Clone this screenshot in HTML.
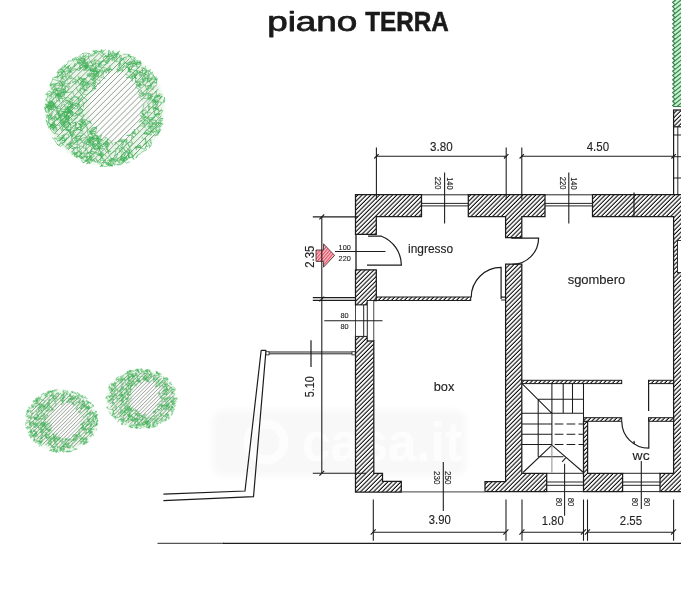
<!DOCTYPE html>
<html><head><meta charset="utf-8"><title>piano TERRA</title>
<style>
html,body{margin:0;padding:0;background:#fff;}
body{width:681px;height:600px;overflow:hidden;font-family:"Liberation Sans",sans-serif;}
svg{display:block;}
</style></head><body>
<svg width="681" height="600" viewBox="0 0 681 600" font-family="'Liberation Sans', sans-serif">
<defs>
<pattern id="h" width="3.07" height="10" patternUnits="userSpaceOnUse" patternTransform="rotate(45)"><rect width="3.07" height="10" fill="#fff"/><line x1="1" y1="0" x2="1" y2="10" stroke="#0c0c0c" stroke-width="1.1"/></pattern>
<pattern id="hr" width="2.4" height="10" patternUnits="userSpaceOnUse" patternTransform="rotate(40)"><rect width="2.4" height="10" fill="#f7c4ca"/><line x1="0.6" y1="0" x2="0.6" y2="10" stroke="#e63c54" stroke-width="1.0"/></pattern>
<pattern id="hg" width="4.2" height="7" patternUnits="userSpaceOnUse"><rect width="4.2" height="7" fill="#a9e6b2"/><path d="M0 7L4.2 2.5M0 2.5L4.2 -2M0 11.5L4.2 7" stroke="#3f9a55" stroke-width="0.9" fill="none"/><path d="M0 2.5L1.2 4.2M0 7L1.2 8.7M0 -2L1.2 -0.3" stroke="#3f9a55" stroke-width="0.8" fill="none"/></pattern>
</defs>
<rect width="681" height="600" fill="#fff"/>
<g opacity="0.999">
<filter id="bl1" x="-10%" y="-10%" width="120%" height="120%"><feGaussianBlur stdDeviation="1.5"/></filter>
<filter id="bl" x="-10%" y="-20%" width="120%" height="140%"><feGaussianBlur stdDeviation="3"/></filter>
<rect x="212" y="410" width="254" height="66" rx="12" fill="#f8f8f8" filter="url(#bl)"/>
<circle cx="266" cy="442" r="18" fill="none" stroke="#fdfdfd" stroke-width="9"/>
<text x="302" y="461" font-size="56" font-weight="bold" fill="#fdfdfd" textLength="160" lengthAdjust="spacingAndGlyphs">casa.it</text>
<g font-size="26.8" fill="#1a1a1a" stroke="#1a1a1a" stroke-width="0.75" stroke-linejoin="round">
<text x="267.2" y="30.7" textLength="90.2" lengthAdjust="spacingAndGlyphs">piano</text>
<text x="365.2" y="30.7" textLength="83.6" lengthAdjust="spacingAndGlyphs" font-weight="bold" stroke-width="0.55">TERRA</text>
</g>
<clipPath id="tc1"><ellipse cx="105" cy="108" rx="57" ry="55"/></clipPath>
<ellipse cx="105" cy="108" rx="59" ry="57" fill="#e6f7e6" filter="url(#bl1)"/>
<ellipse cx="116" cy="107" rx="27" ry="36" fill="#fbfdfb" filter="url(#bl1)"/>
<path d="M-75.0 168.0L165.0 -72.0M-72.0 171.0L168.0 -69.0M-69.1 173.9L170.9 -66.1M-66.1 176.9L173.9 -63.1M-63.1 179.9L176.9 -60.1M-60.2 182.8L179.8 -57.2M-57.2 185.8L182.8 -54.2M-54.2 188.8L185.8 -51.2M-51.2 191.8L188.8 -48.2M-48.3 194.7L191.7 -45.3M-45.3 197.7L194.7 -42.3M-42.3 200.7L197.7 -39.3M-39.4 203.6L200.6 -36.4M-36.4 206.6L203.6 -33.4M-33.4 209.6L206.6 -30.4M-30.5 212.5L209.5 -27.5M-27.5 215.5L212.5 -24.5M-24.5 218.5L215.5 -21.5M-21.6 221.4L218.4 -18.6M-18.6 224.4L221.4 -15.6M-15.6 227.4L224.4 -12.6M-12.6 230.4L227.4 -9.6M-9.7 233.3L230.3 -6.7M-6.7 236.3L233.3 -3.7M-3.7 239.3L236.3 -0.7M-0.8 242.2L239.2 2.2M2.2 245.2L242.2 5.2M5.2 248.2L245.2 8.2M8.1 251.1L248.1 11.1M11.1 254.1L251.1 14.1M14.1 257.1L254.1 17.1M17.1 260.1L257.1 20.1M20.0 263.0L260.0 23.0M23.0 266.0L263.0 26.0M26.0 269.0L266.0 29.0M28.9 271.9L268.9 31.9M31.9 274.9L271.9 34.9M34.9 277.9L274.9 37.9M37.8 280.8L277.8 40.8M40.8 283.8L280.8 43.8M43.8 286.8L283.8 46.8" stroke="#6c726c" stroke-width="0.7" fill="none" clip-path="url(#tc1)"/>
<path d="M103.5 152.6L100.1 153.2L101.1 156.9L103.8 154.7L100.1 151.7L99.1 148.8L100.4 144.9L103.0 146.8M155.6 114.9L153.5 109.9L152.9 106.0L153.4 100.8L150.2 99.7L148.1 95.5L153.1 93.9L148.6 96.5M68.3 70.5L70.7 72.8L69.9 68.3L73.2 66.9L75.3 63.1L74.0 67.0L77.7 63.6M55.8 106.4L51.2 107.0L47.6 109.5L48.3 104.9M149.1 133.8L145.7 133.3L143.4 133.5L147.7 134.7L151.9 134.2L149.7 136.0M44.5 107.2L46.1 112.2L45.7 108.7L49.0 104.5L52.6 103.1L55.9 106.5L57.3 111.6M63.9 112.7L65.1 116.4L61.8 116.7L59.5 120.0L56.5 117.1L54.3 117.6L54.6 120.4L50.3 117.9L51.7 113.3M133.3 66.0L128.8 67.3L128.2 70.4L129.0 67.7L128.3 70.3M103.0 165.8L99.9 166.7L103.1 164.4L104.0 162.3L106.6 162.6M98.7 77.0L95.0 76.9L97.7 72.2L94.7 68.9L90.9 70.1L95.3 70.9L96.7 66.8L92.6 68.9L94.6 70.9L96.9 71.6M157.2 134.3L154.5 135.8L158.5 134.8M157.1 99.6L157.8 102.0L153.2 99.7L150.0 97.7L153.2 96.3L151.0 96.3L148.3 94.0L147.8 96.7M140.0 65.8L138.4 68.3L136.1 63.9L139.2 62.5L133.8 63.0M110.1 159.4L112.1 162.9L111.8 166.1L108.7 166.0M114.8 57.5L112.4 56.7L114.8 57.3L118.0 53.7L119.5 50.8L116.6 53.6L117.0 56.1L116.5 61.2M50.7 85.5L52.8 84.0L55.8 84.9L54.1 83.4L49.9 85.9L50.6 83.2L52.6 86.3M91.3 79.4L95.5 82.6L91.6 86.3L94.2 84.6L94.1 88.4L96.3 88.9L93.3 86.8L92.3 89.0L97.0 86.2M54.6 94.5L52.9 96.7L53.6 99.5L50.5 103.3L54.4 105.8L57.9 108.0L56.3 110.5L58.6 110.0L60.5 114.4L55.9 111.9M62.3 73.2L62.4 75.5L62.5 77.9L60.2 77.2L64.0 79.1M91.0 159.8L86.0 160.8L89.9 163.6L88.4 161.2L90.0 163.3L92.1 160.9L90.9 156.1M80.2 90.1L83.5 94.2L86.6 94.8L90.6 92.0L94.8 89.3L94.7 84.8M124.1 146.2L126.1 143.9L126.9 139.5L123.5 140.7L123.4 144.4L121.3 143.8L122.7 141.5L117.9 141.9L122.9 139.7L127.3 140.2M61.8 85.0L61.5 89.9L58.7 92.0L56.4 90.1L60.3 90.3L56.0 90.3M56.6 127.1L57.1 130.3L55.1 125.4L54.3 122.1L50.8 119.2L47.7 114.7L48.7 119.9L49.0 115.6L46.4 118.4L47.2 115.6M93.3 143.8L90.2 147.0L89.8 142.9L93.0 138.8L97.0 137.8L98.3 140.5L99.2 144.5L99.3 142.2L97.4 138.0M78.0 144.9L72.7 143.4L70.3 143.0L70.2 145.6L70.0 143.1L75.3 142.3M60.4 69.0L65.2 66.5L61.6 69.8L59.1 70.9L57.9 73.3L62.4 70.4L65.5 73.2L63.3 74.6L62.4 77.5M121.3 147.7L124.2 147.1L124.1 149.9L125.8 152.2L124.0 156.6L125.8 153.4L129.0 149.5L130.7 152.5L128.4 153.7L129.7 158.7M153.0 115.1L157.6 114.1L160.2 113.6L156.1 113.6L154.7 117.2L152.2 120.3L155.9 120.3M67.9 119.8L65.5 123.7L63.2 122.6L66.2 120.8L61.0 118.9L58.0 115.5L57.7 110.9L59.3 115.9M67.3 81.2L66.0 75.9L64.9 72.4L63.5 69.9L59.1 69.1L56.9 72.8L61.4 72.1L63.8 71.6L66.8 71.3M142.6 100.3L139.7 97.2L144.1 95.4L146.8 91.5L148.5 87.6L146.7 90.1L145.3 85.2L142.7 84.5L144.6 81.2L142.3 81.7M51.1 104.6L53.3 105.7L50.8 106.6L50.1 104.0L53.7 106.4L53.2 109.5L50.2 109.0L49.0 111.1M86.6 54.2L84.0 57.0L83.7 54.3L82.3 56.8L86.7 55.8M145.6 79.3L148.3 78.0L148.0 80.5L147.5 75.4L143.8 73.5L146.3 72.4L149.8 71.1L152.3 75.2M139.7 81.6L140.0 86.1L139.4 83.0L142.1 85.2L139.6 85.3L140.5 87.5L136.3 84.5L136.8 86.8M89.0 56.1L84.9 57.6L84.3 61.8L85.6 64.4L86.0 68.1L86.0 62.7L86.3 65.8L83.0 64.8L80.1 65.7M74.9 108.7L77.2 108.6L78.7 103.8L77.2 106.9L72.6 104.4L68.5 107.4M136.6 147.5L136.5 149.9L134.7 147.3L138.6 147.7L136.0 147.3L140.4 145.3L137.8 146.5L135.2 146.5M94.7 161.3L92.9 158.3L89.3 154.4L87.4 152.0L92.3 154.0L89.5 152.2M66.9 79.3L72.0 78.3L68.2 77.1L67.3 73.3L69.4 72.1L68.9 76.3L71.3 75.9L72.4 78.2L75.1 79.2M81.2 119.2L85.3 121.8L81.9 122.5L84.3 122.3L80.7 121.5L83.1 124.1L81.8 119.1L85.6 119.7L89.7 122.3L91.7 123.5M64.9 142.5L64.7 139.4L62.8 141.2L61.7 139.0L63.8 135.7L65.2 140.8L61.7 140.5M141.2 81.1L136.0 82.9L135.0 78.0L133.8 74.2L137.8 71.2L137.1 73.9L134.4 76.7L137.1 78.6L135.0 77.6L136.8 73.6L135.5 76.5M81.1 138.8L78.8 138.5L81.2 140.8L80.5 136.0L77.2 134.4L76.5 138.0L73.4 141.5L69.7 145.0L73.3 147.0L75.5 147.8M48.0 110.7L49.0 106.3L48.9 102.9L52.9 101.4L49.9 103.5L53.8 103.0L55.1 105.4M86.4 64.8L87.8 68.1L87.5 65.7L90.8 68.1L90.5 70.6M101.3 156.8L98.1 152.9L98.9 150.1L101.0 146.8L97.2 148.5L100.3 146.3L101.3 143.5L102.5 147.2L104.9 145.4M65.4 119.9L66.8 115.5L68.9 110.4L68.8 113.3L68.7 108.5L64.9 108.2M57.4 139.8L54.2 138.1L59.6 138.3L58.1 134.3L53.4 133.0L50.0 128.7L54.9 126.7M55.7 102.6L54.5 105.6L50.4 105.4L45.2 103.8L47.5 107.4L52.1 107.3L49.0 105.9L44.7 109.0L48.1 106.3M71.5 137.1L72.4 132.9L75.2 129.1L71.5 132.2L68.8 132.5L72.1 136.9L73.4 133.8L76.8 137.2L80.2 136.1L83.1 134.9L80.4 136.4M74.8 156.7L74.0 153.0L78.5 152.2L80.7 153.6L83.6 153.0L86.6 153.5M45.7 115.3L49.3 115.4L51.6 114.7L52.3 118.2L56.5 119.5L60.6 117.4L58.5 113.0M101.6 49.2L100.9 52.9L103.9 54.8L102.4 52.0L97.2 51.7L100.9 55.1L103.6 57.2L106.0 55.6M62.1 102.6L61.1 106.3L64.3 103.8L65.3 108.4L63.4 111.7L68.8 112.0L65.9 107.6L68.9 107.0L65.4 106.0M108.5 53.2L108.1 56.2L109.9 58.6L106.4 61.0L108.3 59.6L110.3 56.3L113.2 55.2M66.2 112.7L67.0 116.0L63.7 116.6L61.5 114.9L64.8 111.8L62.5 111.3L60.4 115.3L57.4 111.4M135.6 84.0L139.4 87.4L138.5 84.6L135.2 80.9L137.8 81.8L140.9 84.5L136.5 84.4M90.8 144.1L94.0 144.5L92.1 142.9L92.8 147.2L96.1 146.9L93.0 144.6L96.3 145.1L98.2 147.4L98.7 143.0L101.1 143.6L100.7 141.1M89.7 141.1L88.1 143.0L91.1 141.5L90.3 137.1L93.0 138.9M100.0 78.5L99.7 81.0L95.6 78.8L92.1 79.4L95.0 78.1L95.6 81.2L98.4 84.3L100.9 82.5M159.8 132.6L158.9 130.5L157.3 134.6L159.2 131.9L161.3 130.2M129.5 75.0L132.2 74.6L130.9 78.9L127.5 74.8L125.3 74.3M103.9 50.5L99.3 51.7L102.5 50.2M79.4 112.6L77.8 108.0L79.9 104.4L75.2 103.5L70.7 102.0L65.8 99.7L63.5 102.7L61.8 97.7L59.9 95.9L64.8 94.4M92.6 67.6L90.1 71.2L94.9 71.1L98.3 72.4L96.0 74.6L97.5 71.2L96.2 67.2L93.8 66.9L91.4 62.3L93.4 66.1M64.7 111.1L67.6 113.9L64.8 114.3L61.2 110.4L58.8 112.1L58.9 117.6L57.4 120.2L55.4 116.0L52.4 119.2L49.6 114.7M66.2 125.1L61.4 122.8L62.9 120.5L61.1 122.3L63.5 122.7M127.3 156.2L129.4 151.4L131.6 154.6L134.0 156.5L129.3 157.6L127.9 153.0L128.5 157.4L132.5 157.2L134.0 159.6L132.7 157.5M58.1 97.4L59.9 101.1L56.3 100.8L57.8 95.8L57.1 91.3L55.5 87.2M69.3 99.9L65.4 100.8L67.7 101.5L71.8 104.3L75.6 105.4L75.9 103.1L78.3 100.2L77.8 97.5L80.6 100.5L82.8 96.3L79.2 92.2M120.7 64.1L118.5 65.9L119.9 62.8L122.3 66.1L125.0 62.2L121.6 59.0L120.3 61.3L120.2 64.6L119.5 68.3L121.0 70.4M104.4 141.2L100.7 139.2L96.3 138.0L96.5 140.6L92.1 141.7L96.6 144.4L99.2 148.0L102.6 148.6L100.3 150.0L96.7 147.4L91.7 145.9M120.7 157.2L122.2 154.7L121.4 151.5L119.0 150.9L120.3 148.3L117.2 149.1L118.8 145.2L115.2 142.1L115.2 144.5L116.7 141.6M127.8 54.5L130.6 56.8L126.6 54.4L123.1 54.3M119.0 164.0L119.3 160.6L115.1 161.1L114.6 165.4L112.2 160.7L107.1 160.7M158.6 97.4L154.2 97.5L155.6 95.1L160.2 95.6L156.7 95.8L156.1 90.9L154.6 93.5M74.1 134.4L70.9 138.3L75.6 137.8L80.4 139.8L75.6 141.1L76.8 143.5M121.4 55.4L121.0 58.8L123.3 58.2L128.1 56.6L131.3 56.9L128.0 54.6L130.4 54.6M61.8 74.6L57.0 77.4L58.1 73.5L61.2 76.1L66.3 76.6L64.5 79.5L60.5 78.2M65.3 86.0L68.7 88.0L66.1 92.5L61.1 91.1L63.9 89.3L66.4 92.6L63.4 90.7L65.8 88.0L63.7 90.6L63.5 94.0M91.7 56.7L93.0 53.9L97.0 53.2L93.2 51.3L95.6 52.5L98.5 51.3M102.2 141.7L101.8 139.4L97.0 139.0L98.1 136.4L94.2 135.3L92.5 138.0L90.2 137.7M126.8 58.6L124.4 59.9L120.2 58.3L118.9 54.3L116.1 53.8L118.6 52.1M51.7 106.0L52.5 108.2L55.7 107.5L60.2 106.4L61.2 111.6L66.6 111.9L69.6 112.5L67.5 111.8M70.6 102.1L70.8 105.9L68.4 110.7L72.1 112.5L73.7 116.4L77.7 115.3L75.1 113.1M46.0 112.5L49.5 111.5L48.6 108.3L51.8 109.9L50.4 105.2L55.1 103.8L51.4 102.2L47.6 102.2L45.9 98.5M132.8 74.3L132.2 79.2L132.1 81.5L132.3 76.7L129.1 77.6L126.2 77.4L128.9 77.2L130.4 75.4M103.3 154.0L102.5 156.2L100.3 159.7L101.5 154.7L102.1 157.1M149.3 148.2L149.9 145.1L147.1 146.8L145.4 142.5L145.6 137.8M80.3 78.9L76.9 80.8L72.0 82.0L74.5 83.3L78.4 81.7L75.2 78.8L75.4 82.3L76.1 84.9M157.8 108.5L159.1 110.8L162.7 110.6L160.1 114.7L154.8 115.0L158.1 117.8L159.7 113.8L155.2 115.9M105.7 58.9L108.9 55.5L108.9 50.0L108.6 53.4L108.9 56.0L105.0 55.6M66.0 98.8L62.9 96.2L59.9 96.8L56.5 94.9L58.6 93.1M83.8 124.7L83.1 122.5L81.9 124.8L78.3 123.3L80.6 124.8L81.1 128.0L82.0 125.8L80.2 130.0L83.5 131.4M155.4 125.2L156.5 122.5L155.9 125.5L153.2 126.9L156.2 127.5L157.3 130.7L152.4 132.1L150.1 128.5L152.4 125.9L149.7 127.3L152.2 122.8M147.1 82.4L147.6 78.8L147.1 82.0L150.3 81.4L152.1 78.3M79.0 136.7L75.6 136.5L74.6 139.5L77.4 142.4L77.0 139.7L75.3 137.5L77.9 141.7L77.8 145.0M89.9 141.6L88.6 145.0L83.7 143.4L88.0 140.9L87.1 138.7L88.6 142.3L93.2 141.9L94.4 145.0M139.6 66.5L136.5 69.6L137.9 72.8L142.9 72.1L141.8 67.4L146.4 69.3L145.0 73.1L145.2 77.8L145.5 81.0L142.9 79.8M67.6 106.6L68.0 109.8L62.9 109.4L57.9 108.2L54.4 107.2L57.2 104.3M58.9 115.1L60.5 119.6L60.0 122.6L63.0 126.3L66.8 126.8L68.7 131.1L71.3 132.6M93.4 76.0L91.6 73.8L89.4 77.2L91.7 73.5L93.9 73.3L92.4 76.7L94.7 77.3L92.0 80.3M82.4 155.3L80.9 152.5L78.9 156.9L81.7 158.6L83.5 156.2L87.8 155.9L85.4 160.8L87.9 159.2L87.5 164.1M145.7 65.7L144.5 69.8L148.0 70.9L150.6 69.6L147.9 73.1M60.3 89.1L60.2 91.9L61.8 93.8L58.9 97.5L57.9 94.8L60.6 94.5L56.1 95.0L60.3 96.1L62.5 97.2M60.1 102.7L58.4 97.7L59.6 93.8L57.3 93.9L53.5 92.5L53.3 89.8L51.3 88.6L50.6 83.7M56.7 127.3L51.9 125.8L52.8 128.3L54.9 127.3L52.7 129.8L54.2 126.0L50.1 126.6L53.3 123.8L50.7 124.7M116.0 147.9L115.6 153.4L114.3 155.8L117.9 153.6L116.4 157.3L113.1 159.0L110.5 158.1M60.3 69.6L61.9 67.2L64.7 64.8L65.3 67.2M142.1 136.7L143.7 140.1L145.1 138.2L146.9 143.3L143.6 144.4L147.7 141.9L149.6 145.6M52.9 89.4L56.9 88.7L53.8 89.8L51.4 93.8L47.9 96.8M97.4 149.0L94.7 148.9L91.2 147.9L94.7 144.9L92.1 145.3L95.3 149.6L93.1 147.7M49.7 123.9L48.5 120.5M96.9 71.2L95.6 75.1L93.8 79.4L95.5 82.8L92.0 84.0L88.2 83.1L86.2 87.6L90.0 86.4L87.0 82.9L85.2 86.7M60.5 118.3L62.9 113.7L64.9 117.1L68.2 113.0L71.3 114.0L69.5 112.4L67.5 113.5L64.9 116.7M147.2 70.1L145.1 75.1L141.5 78.3L145.9 78.5L149.2 77.9L150.0 73.7L152.4 71.9L153.8 76.8L155.7 78.0M71.9 151.5L75.6 154.6L76.7 152.0L74.9 154.9L78.6 153.6M94.9 164.6M93.3 71.5L98.1 72.1L98.7 76.5L96.8 75.3L95.3 73.1L89.9 74.2M118.5 157.5L117.1 159.5L113.2 160.1L116.6 157.1L118.1 162.1L122.6 162.2L124.4 157.9L127.1 160.1M54.3 101.0L53.6 104.5L50.5 100.3L47.8 102.7L52.9 101.6L53.8 104.1L54.0 107.1L50.2 110.1L47.9 111.0L50.2 115.3M79.0 103.6L79.8 100.2L82.6 96.7L79.9 92.3L80.6 88.2L84.1 89.3L82.7 85.7L79.8 84.0L81.4 81.5L79.1 78.7L80.4 80.5M131.3 135.0L126.6 135.5L130.7 135.0L134.1 137.2L131.4 137.1M135.5 66.3L132.1 65.3L135.5 63.2L130.9 63.9L128.7 64.8L124.4 62.0L122.7 63.9L126.8 67.1L130.1 69.9M108.8 145.7L105.9 147.0L102.9 143.9L108.0 144.8L105.1 145.2L109.4 142.5L107.1 143.3L102.5 142.9M69.3 122.2L70.8 125.7L68.3 121.8L66.5 118.7L64.9 114.9L60.6 115.5L59.8 117.7L63.0 122.1L66.9 119.0M101.7 162.7L106.8 162.2L109.3 165.2L112.9 166.0L110.0 164.7L112.8 164.9L113.5 161.9L110.7 158.2M80.0 107.7L83.4 110.6L80.0 108.0L78.0 103.1L74.0 104.4L69.9 103.7L68.7 101.1L71.1 102.0M151.4 120.3L152.6 124.1L153.0 127.0L147.8 126.9L149.8 123.8L147.4 121.7L148.4 119.5L146.4 118.1L150.0 117.9L154.9 116.9L150.5 119.2M79.5 56.4L74.9 59.1L72.2 58.9L73.5 61.5L74.4 59.3L77.7 60.8L78.9 58.1L81.8 62.4L80.8 59.1L76.2 59.7M150.1 87.4L150.9 82.9L156.1 82.8L157.4 78.5L155.7 80.1L156.1 76.4M91.7 67.4L90.2 70.0L87.6 70.1L83.1 70.3L87.1 68.7L84.6 66.2L89.5 65.4L93.0 65.9L95.4 63.2M144.2 123.2L145.2 126.2L142.6 124.4L143.9 122.2L144.4 119.5M92.7 56.1L94.6 54.8L95.1 51.1L97.3 50.7L92.3 50.9M119.1 68.6L122.7 69.5L122.1 71.8L122.4 69.4L124.3 65.7L122.8 67.7L119.5 68.3L117.3 72.5L119.9 70.4L116.6 69.8M117.1 164.7L120.9 164.8L124.2 161.4L119.3 159.7L121.9 156.3M81.3 159.8L83.3 162.9L87.1 160.0L86.5 156.9L90.9 156.5M90.6 131.0L91.1 134.9L90.2 131.0L95.5 131.3L91.7 132.4L92.7 135.2L93.7 139.3L96.3 137.6L94.4 140.2L96.6 140.6L97.7 135.2M67.8 119.2L66.6 116.9L70.8 117.7L73.5 120.8L77.6 117.2L73.3 118.9M52.5 88.1L55.2 83.5L57.9 83.7L60.5 83.9L62.7 82.7L59.9 82.0M142.9 109.8L140.3 112.2L144.3 114.6L141.8 113.6L143.8 116.2L147.3 117.1M128.0 70.2L132.1 72.0L134.6 74.6L132.2 76.5L134.9 77.3L133.5 72.2L135.4 70.9L132.8 69.7L128.9 69.2L130.2 71.3L127.8 71.6M136.4 60.8L140.8 63.9L139.8 60.4L140.6 64.1L139.2 61.9L139.6 64.5L135.8 64.4L133.9 61.3L135.8 58.9M70.2 131.1L67.1 129.7L65.2 128.0L63.6 124.1L64.5 121.8L60.8 123.8L65.2 125.6L68.7 123.1L69.1 117.8L65.4 118.9L68.8 116.0M96.8 154.9L94.3 152.7L91.0 151.2L89.7 154.6L89.9 159.2L93.7 159.9L95.9 162.0L92.9 160.7L90.1 160.4L89.4 162.8L86.1 163.8M82.5 63.1L84.5 59.6L79.6 57.6L81.9 58.1L85.0 58.8L80.9 57.8L79.9 55.8L82.0 53.6L85.3 53.0L89.1 53.5M57.2 144.4L59.3 145.6L60.9 142.0L64.4 142.8L65.6 140.0M45.5 101.1L47.7 97.5L47.0 94.0L51.3 96.4M53.7 131.1L54.5 126.6L52.3 124.4L49.1 126.4L54.2 125.0L50.8 126.0L48.7 128.1L47.8 124.2M99.7 162.9L100.7 160.1L105.6 160.5M80.2 129.3L75.6 130.3L73.4 130.7L72.9 134.6L76.2 131.9M77.8 141.6L81.9 138.5L85.1 137.2L89.4 139.6L86.2 140.8L82.2 142.8L81.7 139.2M101.7 139.0L100.0 141.9L97.0 144.9L97.9 141.8L100.1 140.2M110.2 51.4L111.7 56.5L112.2 60.7L116.0 58.3L116.5 55.2L118.0 53.0L115.0 55.3L114.3 53.1L117.3 54.6M137.7 155.0L135.8 158.2L138.4 154.4L140.8 153.6M94.4 64.1L99.6 63.2L99.3 66.6L102.1 68.8L102.3 73.4L100.6 77.5L105.1 78.3L103.0 75.9L103.7 70.9L107.4 68.4M59.5 125.7L54.4 124.7L53.9 121.2L58.2 119.6L54.4 117.4L57.1 113.8L60.0 115.9L62.9 118.7L64.6 117.2L68.3 115.6L63.7 118.5M129.2 154.3L128.2 158.7L124.5 161.0L125.4 157.4L124.1 162.1L120.3 159.5L125.3 160.6L121.2 159.6L124.0 157.9L120.1 159.1L123.7 157.3M62.4 82.5L58.9 85.4L60.4 81.0L62.7 84.6L62.3 87.7L62.3 89.9L65.5 92.9M154.9 119.6L157.0 122.2L161.6 123.7L157.9 126.8L155.8 124.8L152.1 123.9L157.3 123.4L154.8 126.7M130.7 60.6L128.3 65.0L132.8 63.0L134.9 63.7L132.7 62.5L137.0 65.2M141.4 118.8L145.9 117.3L143.4 117.9L146.2 117.3L143.2 113.6L146.4 112.3L145.8 109.9L141.7 111.7M98.5 147.8L100.0 144.9L97.0 142.1L99.1 141.3L98.1 137.6L95.9 134.9L93.0 139.2L90.2 140.3L85.7 139.5L83.4 144.5L84.0 149.0M78.6 133.1L83.4 133.1L86.4 136.7L90.5 139.3L90.0 142.2M76.6 121.7L73.0 123.2L75.8 122.3L76.5 125.6L75.5 122.4L75.5 127.1L78.5 127.7L73.7 128.3L70.5 127.5L74.7 124.8M82.6 80.9L80.9 76.8L77.6 80.3L79.6 85.3L82.6 83.9L80.3 88.2L78.0 91.6L76.1 86.7M105.9 71.4L110.7 69.2L106.8 70.8L110.3 67.6L109.7 65.1M78.5 102.9L78.7 98.2L73.8 97.1L70.0 99.0L72.5 100.2L68.2 97.6L63.0 98.4L59.5 98.6L60.6 93.4M146.8 79.0L151.5 78.1L153.5 75.6L156.7 79.4L152.9 79.1L149.3 80.6L149.9 82.9M47.7 107.2L44.6 107.2L49.3 105.4L46.5 105.5M52.7 79.0L57.1 80.5L61.8 81.7L65.9 80.5L63.6 85.2L61.2 88.7L55.9 88.1M79.0 150.6L81.3 154.9L81.2 150.0L79.1 148.1L79.9 145.1M58.8 144.8L61.0 143.4L63.8 144.3L60.2 146.3L56.9 143.9L55.3 140.9L52.0 137.1M67.9 128.0L68.4 124.9L68.3 127.4L64.8 124.2L63.7 121.2L63.0 123.5L64.4 126.2M85.4 121.9L84.1 126.3L82.5 128.9L80.1 127.2L82.2 131.2L79.1 129.6L77.0 128.7L81.0 126.6L79.1 123.1M85.5 81.0L88.6 83.0L83.8 81.6L82.3 79.1L78.3 76.4L78.3 79.5M102.1 166.2L101.3 163.2L98.6 161.8L95.6 158.1L97.2 162.2L99.7 164.1M102.4 73.9L99.8 70.5L97.5 72.5L95.2 69.9L95.8 64.9L94.8 59.7L93.2 64.5L89.0 67.3L86.7 65.1L85.7 70.1M72.9 111.3L70.7 114.0L72.9 115.1L69.3 115.2L68.2 118.1L70.9 114.0L69.2 110.5L64.6 112.7L60.4 114.6M102.1 52.6L104.0 51.1L105.6 49.4M111.8 158.1L114.7 161.3L113.5 158.2L109.1 160.0L111.2 163.7L105.9 164.2L108.7 164.9L112.1 165.2M151.8 87.7L151.0 83.6L150.5 88.5L153.0 89.7L153.4 85.6M70.3 108.3L73.3 112.5L69.8 109.6L71.7 112.1L76.0 114.0L79.2 109.8L82.6 109.6L81.8 113.9L77.1 114.8L81.0 112.6M58.0 79.5L57.8 76.1L54.0 77.5L56.4 77.5L61.2 74.8L63.6 72.0L61.6 68.8M82.3 130.4L78.5 129.3L76.4 127.8L76.9 130.3L74.6 126.5L76.8 123.3M86.5 75.0L89.1 76.1L88.1 73.0L87.2 75.8L91.9 76.1L90.6 78.8L93.6 81.2L93.2 75.9L95.3 74.9L91.5 75.0M63.4 95.1L60.4 93.1L64.2 92.2L68.4 92.4L72.7 91.5L74.2 96.2L79.1 97.3L82.4 101.0L83.6 103.5L83.5 107.3M88.4 65.8L87.3 62.5L84.4 62.8L81.5 62.3L78.7 62.6M108.9 153.6L107.2 148.6L109.4 144.3L105.7 141.1L106.2 146.3L106.8 148.8L107.5 143.4L107.7 139.1L111.1 141.2L112.8 144.8M78.3 124.4L83.4 125.9L86.1 124.1L83.8 120.1L79.4 121.5L82.3 119.1L84.0 114.4L81.9 116.7L78.9 115.0M51.6 126.5L50.6 129.1L50.1 123.8L50.7 127.0L52.9 127.8L54.4 131.1L56.7 130.7M156.8 96.4L162.3 96.8L159.6 98.4L162.5 95.9L160.1 98.0L157.4 99.4L153.8 99.0L153.6 101.2L156.4 105.1L155.0 100.1L158.1 104.3M161.6 102.4L156.4 100.7L152.9 103.2L152.6 99.9L155.4 103.0L154.5 100.6L155.1 96.5L158.5 96.4L162.1 93.8M63.2 138.3L60.2 139.8L57.2 140.8L60.2 141.0L62.4 137.8L62.9 135.4L65.1 135.3M91.7 55.7L89.1 53.3L88.4 57.9L91.1 62.2L95.8 59.5L100.4 62.2L102.7 60.4L100.8 64.0L96.3 65.5M130.5 149.7L128.5 144.9L124.3 141.4L122.1 142.4L120.6 139.8L117.9 141.9M83.4 148.2L81.7 145.9L78.4 147.9L73.9 148.0L71.8 148.7L75.2 147.7L77.7 146.9L77.1 150.7L81.8 152.2M82.6 162.7L86.8 161.0L82.9 159.6M51.0 107.0L48.6 105.9L52.5 105.7L50.4 106.8L49.5 101.8M71.9 101.5L72.5 103.6L72.9 108.1L69.4 107.6L65.2 110.0L70.5 110.0L68.2 109.5L70.5 112.9L71.3 110.3L70.9 113.7M102.8 166.3L100.8 165.0L104.9 166.6L109.8 165.3M96.5 136.5L93.9 132.8L91.3 134.1L89.2 131.9L93.8 129.1L96.7 128.5L95.2 133.4L91.3 134.3L90.6 131.4L88.2 132.0M80.0 84.7L81.4 81.4L83.0 85.3L81.3 82.3L83.5 79.3L83.6 83.2L82.6 86.8M61.3 80.0L64.6 83.0L61.8 85.3L66.4 83.5L70.9 82.9L68.3 85.1L69.8 87.0L67.1 86.8L64.6 85.4L59.4 85.3L54.3 86.4M95.1 136.8L89.9 138.5L88.4 135.5L87.2 130.6L87.5 127.5L85.5 124.0L82.5 124.5L81.1 121.2L80.5 124.8L83.0 126.9M149.0 81.2L151.2 79.3L153.9 77.5L155.6 80.0L153.5 81.6L156.7 83.5L156.0 78.7L154.3 80.1M56.2 129.9L54.7 126.1L52.3 122.3L56.2 125.1L51.4 124.5L53.2 126.0L51.2 123.5M143.9 104.4L143.0 108.6L142.6 113.3L144.1 116.0L140.1 115.7L143.9 118.1L145.7 120.0M80.0 157.0L81.1 159.0L83.3 158.5L80.7 155.4L76.3 157.8L77.3 155.7L73.6 152.3L71.6 154.0M82.9 97.3L87.2 100.0L85.8 101.8L81.5 104.5L79.3 109.4L81.9 112.1L78.3 113.7L74.8 115.8M96.8 135.1L99.8 139.4L101.7 134.7L99.1 137.8L96.9 141.7L98.9 139.6L96.8 144.2M91.2 132.2L92.2 128.3L95.9 127.2L92.2 128.1L89.2 130.7L85.6 126.5L87.4 121.9L89.9 120.8L91.1 123.3L89.3 121.1M57.4 112.5L53.8 109.5L49.6 108.4L48.1 105.0L47.6 107.6L45.8 104.7L48.8 103.8L49.5 100.2M128.8 141.9L133.0 143.6L131.4 140.9L132.0 136.9L132.9 131.6L135.3 135.1L139.3 131.9L137.0 128.3L141.1 125.4L145.6 127.7M76.8 61.1L78.9 63.3L80.2 68.2L78.5 70.9L80.9 69.2L79.8 66.7L82.1 68.0L78.9 69.0L83.8 66.4L85.8 65.1L81.4 67.9M97.0 75.4L95.7 73.1L99.6 72.6L97.3 76.9L94.1 73.9L95.0 70.4L97.6 71.1L101.9 70.9L104.5 71.3L106.9 73.2L103.9 68.8M63.4 88.5L66.9 92.3L65.1 90.0L65.4 87.2L62.2 85.2M151.3 143.9L149.7 141.6L150.7 139.4L151.3 144.3L150.5 146.8M159.9 118.3L163.1 118.4L159.7 119.1L161.1 124.3L156.0 122.7L151.3 122.2L149.6 120.1L148.1 115.7L147.3 111.9L152.0 113.4M51.7 125.0L48.2 122.6L46.1 119.9L47.6 124.9L48.8 119.9L50.5 117.1L53.1 112.7L51.3 110.5M160.3 103.0L163.5 102.6L164.5 97.3L164.7 99.6L164.3 102.3L163.0 100.1M158.3 112.8L158.3 107.8L153.5 109.2L157.7 105.8L155.8 104.4L155.9 107.2L158.1 109.9L153.4 107.0L158.1 109.7M51.8 92.4L49.0 90.9L45.7 94.4L49.0 93.8L53.9 91.7L56.3 93.8L55.6 98.1L55.9 94.4L59.0 95.4L57.7 91.0L54.2 89.0M72.0 105.5L69.7 107.1L70.4 109.6L72.2 112.7L72.1 117.3M152.2 96.8L149.8 98.0L147.2 97.8L150.9 98.7L150.9 93.7L146.4 93.2L143.0 96.1L142.6 92.6L145.7 95.0L147.0 91.7L149.7 88.5M94.8 145.2L98.7 146.0L99.6 150.5L102.0 154.5L96.7 153.8L100.1 155.7L103.4 153.6L98.7 156.0L101.0 151.8M71.8 129.5L67.8 129.5L65.5 129.1L70.1 131.9L71.3 135.9L70.1 132.3L73.1 136.4M71.1 69.2L69.3 65.0L67.1 67.3L64.2 69.5L61.8 74.0L61.0 71.5L63.5 74.3M70.8 69.5L74.4 68.6L78.2 69.8L74.4 69.9L69.5 71.6L67.7 66.6L70.9 71.0L69.7 73.1M58.6 92.4L60.3 95.5L57.7 97.2L54.0 93.8L51.5 94.1L51.2 98.7L48.9 99.3M104.1 153.7L106.8 157.4L110.3 160.7L112.4 159.1L109.0 155.6L111.7 152.7L116.3 150.8M64.1 137.3L61.7 137.5L63.7 138.6L60.6 137.0L59.8 140.1L63.6 137.0M66.1 147.2L70.2 147.0L66.5 144.2L71.9 144.8L70.1 147.8L66.2 148.8M72.9 139.9L70.3 142.4L69.4 144.5L73.3 141.3L71.5 139.4M131.9 143.8L129.5 147.4L127.9 142.5L126.1 140.9L123.1 141.8L121.4 138.5L119.0 141.2M142.1 94.0L141.3 90.2L138.7 94.8L141.5 96.1L144.3 93.6L141.9 94.1L138.1 91.5L139.5 89.3L135.1 87.1M141.0 152.6L144.5 150.7L146.6 149.9L145.5 147.6L146.7 145.4L144.5 149.3L141.3 148.1L140.3 145.8M141.0 65.4L140.9 61.8L137.0 63.3L134.1 61.0L129.1 61.7L127.0 65.4L130.4 69.6M158.0 122.4L162.9 123.5L161.5 125.8L156.4 127.9L152.7 129.6L155.9 132.7L158.4 133.6L155.3 129.3L158.2 132.3M53.1 84.9L54.8 87.0L55.2 92.2L55.9 94.3L59.6 93.2L64.3 92.3L60.7 92.9L64.3 93.0L64.6 96.4M111.7 53.2L113.2 50.6L113.0 55.7L108.0 56.7L105.1 55.8L108.5 59.0L113.7 58.1L117.8 56.1M70.8 130.5L66.9 130.3L62.1 129.2L64.4 124.8L64.7 122.3L62.0 125.9L61.1 123.5L64.2 127.6L67.0 127.4L66.3 131.1M90.7 70.5L94.8 71.6L89.8 70.2L85.8 67.4L89.5 67.7L90.4 70.4M158.6 133.2L160.5 129.0L158.5 130.5L160.4 126.0L158.0 124.3L159.0 120.4L162.7 120.0L160.6 121.8M73.8 153.6L74.9 156.3L77.3 156.2L79.6 155.9L76.8 156.6L76.9 152.3M104.7 60.0L105.5 62.6L108.1 63.2L105.1 64.4L101.5 65.6L100.4 61.7L105.6 60.7L108.8 58.4L108.9 62.1L105.0 62.3L109.1 60.6M81.2 80.2L86.2 78.7L83.8 78.7L85.0 80.6L84.9 82.9M91.3 157.8L94.7 155.8L92.2 154.4L89.5 158.1L90.1 155.5L91.3 159.0L87.3 160.4L89.3 158.1L91.4 159.5M89.2 145.2L85.6 143.0L89.2 141.1L90.0 136.0L88.1 140.8M148.2 78.2L149.0 73.3L145.9 74.7L141.1 72.4L141.0 76.3L140.2 71.2M136.7 82.6L139.9 79.9L144.1 79.3L142.1 83.2L143.9 81.6L142.3 79.0L143.8 75.0L144.8 78.3M72.2 73.6L71.5 71.0L66.8 71.1L68.5 66.3L68.3 69.0M134.0 134.0L134.3 129.0L135.5 133.6L131.5 133.3L133.2 131.8L135.4 134.3M107.9 66.9L112.4 69.9L107.8 69.2L108.9 72.8L109.4 69.6L104.6 67.8L100.8 67.1L99.1 62.1L98.8 67.5L98.6 64.0M61.0 136.3L64.2 134.3L68.3 134.1L68.9 137.4L65.5 140.3L67.1 137.4L64.4 140.8L67.1 139.5M115.5 164.0L118.2 164.8L123.3 162.8L123.8 159.2L126.8 157.8L122.3 156.8L119.7 160.4L122.6 158.7L122.9 156.3M142.7 84.0L146.0 86.2L149.3 85.2L149.0 88.9L147.4 86.3L152.3 84.5L153.2 80.6M72.9 124.1L71.5 119.5L67.2 121.2L70.0 124.8L70.3 129.3L70.8 132.6L72.4 130.3M66.0 121.6L70.3 122.7L67.7 124.9L65.1 120.6L68.3 119.2L64.6 119.0L68.4 120.3L68.2 115.1L69.1 119.0L69.9 116.3M97.2 149.2L94.0 149.1L97.8 148.6L102.6 148.1L105.1 149.7L105.9 152.2L110.8 151.3L106.2 149.2L108.4 150.4L108.5 154.1M140.1 145.4L141.7 147.5L137.9 147.6L140.9 147.8L138.1 144.7M147.3 134.4L145.6 132.9L149.7 131.3L151.0 133.2L151.1 129.7L154.0 133.0L149.4 131.3L146.5 129.1L143.9 133.9L146.2 133.2L150.9 133.0M104.2 161.3L101.5 156.8L105.2 159.7L105.9 163.7L109.4 164.0L108.0 161.9L108.2 165.5L110.3 162.5L112.6 159.4L116.4 160.2M82.0 86.3L83.0 90.2L87.3 90.6L85.0 89.1L83.5 92.5M135.9 57.4L132.1 60.2L130.2 56.6L134.2 57.1L134.3 61.5L138.3 60.7L136.0 64.8L136.8 67.4M93.6 141.8L91.5 137.2L89.5 140.0L90.7 144.0L88.0 144.0L86.0 145.9L85.5 151.1L86.0 147.6L88.1 152.7L84.2 154.8M119.2 153.0L121.6 148.7L122.3 151.0L124.4 153.8L121.0 157.9L121.2 155.2L125.4 151.8L129.2 150.8L126.0 146.7M130.0 161.8L126.2 163.2L123.2 159.1L126.4 155.5L126.7 160.2L128.9 155.7M145.5 70.9L142.3 70.3L142.7 74.3L139.2 76.1L139.6 70.9L135.4 70.5L137.8 72.1L134.7 74.7L135.6 78.5L135.5 73.9M86.0 85.7L90.4 84.0L85.0 83.7L83.9 86.3L86.5 82.7L81.3 81.3L84.0 82.6L83.9 86.2L84.6 90.4L88.0 86.4M72.0 155.2L74.7 152.4L72.9 148.6L69.7 146.8L68.1 143.7M91.2 139.9L94.4 139.1L91.8 137.7L92.2 135.2L90.1 133.1L93.5 130.0L96.6 126.5L96.6 128.8M92.2 136.2L93.2 139.5L90.0 141.8L93.7 144.1L96.2 143.6M121.0 70.5L116.9 70.0L119.4 65.6L119.5 62.6L120.1 58.7L121.3 60.6L119.8 62.5L117.4 61.4L114.5 61.4L113.9 57.3L111.9 60.5M103.7 61.7L103.5 57.8L105.9 56.4L109.1 56.6L108.1 54.0L111.2 54.4L113.8 52.5L115.3 55.3L110.5 55.1M76.5 59.8L75.6 57.1L71.8 60.8L68.4 61.0L67.6 63.2M64.2 112.5L68.0 111.8L70.6 110.4L67.7 109.6L68.5 107.3L68.8 112.6L65.2 111.8M74.4 158.4M78.9 60.4L83.2 61.1L85.7 58.8L83.7 63.8L87.4 65.2L86.3 67.6L84.4 69.9L88.3 66.5L87.1 61.7L92.5 62.2M106.5 140.3L106.8 142.8L102.8 144.7L106.7 142.1L107.7 139.0L105.9 137.0L104.6 140.0M53.2 77.5L52.3 80.4L50.9 83.8M142.6 123.6L141.4 119.9L139.1 122.3L143.3 119.5L148.0 121.1L149.5 123.6L145.3 124.2L142.8 123.4L147.5 122.8L143.4 119.3M154.2 107.3L155.7 109.2L152.0 107.8L148.5 106.0L148.8 111.2L149.8 107.8L147.6 102.8L150.3 100.2L146.6 98.5L142.6 98.1M125.5 63.3L130.0 62.2L132.8 63.4L131.6 68.0L130.2 73.1L128.8 68.2L131.3 64.6L126.2 63.6L127.5 67.5L124.4 67.0M71.5 96.3L73.6 100.1L69.8 101.9L67.7 106.7L69.3 111.8L64.2 112.9L65.1 114.9L65.8 117.1L63.2 119.3L58.4 121.3M134.7 154.0L136.8 152.6L133.3 156.1L129.2 153.1L126.8 152.8M83.9 152.5L84.3 156.0L88.7 158.4L86.7 157.2L83.8 156.9L80.3 157.0L82.5 157.7L79.3 155.2M121.8 149.4L122.5 144.3L120.1 146.8L124.2 149.0L127.1 152.2L129.7 152.8L129.4 149.8L131.9 150.4L132.3 155.9L132.9 158.5M86.5 152.3L89.3 152.7L91.7 151.8L91.6 148.3L90.4 152.8L92.7 153.6L97.3 152.6L92.2 151.2M71.7 124.6L68.2 123.3L63.6 120.8L61.3 119.8L59.8 124.3L60.0 127.2L62.1 131.4L62.2 126.3M67.2 67.6L64.6 66.5L67.5 63.6L65.0 65.8M154.2 114.3L154.6 111.3L156.8 109.7L154.9 108.1L156.5 106.2L158.7 102.3L155.5 101.9L153.7 98.3M79.5 78.9L84.7 78.4L87.8 81.6L91.7 82.2L96.0 84.0L93.6 86.9M86.6 66.1L83.0 65.3L78.0 63.1L81.4 63.4L83.5 64.6L85.3 68.3L82.8 67.0L80.2 62.3L76.9 62.6L80.1 58.5M75.3 109.7L72.1 106.6L68.9 106.6L71.4 106.1L73.7 105.1L72.1 108.4L71.9 105.2L71.0 109.0L72.2 103.9L69.6 104.6L65.0 102.0M150.7 131.4L153.8 128.0L148.5 128.4L150.4 124.2L149.5 119.9L153.5 118.8L150.7 120.0L148.3 119.3L147.0 116.6M82.3 59.9L85.0 61.4L87.4 63.2L83.7 63.5L84.3 59.7L82.0 60.2L83.3 64.0M89.3 75.4L89.4 72.8L92.5 68.3L96.8 68.8L100.3 70.0L97.5 74.0L95.2 78.3L93.5 73.2L92.9 69.0" stroke="#3cb054" stroke-width="0.55" fill="none" stroke-linejoin="round"/>
<clipPath id="tc2"><ellipse cx="61.5" cy="421" rx="33" ry="28"/></clipPath>
<ellipse cx="61.5" cy="421" rx="35" ry="30" fill="#e6f7e6" filter="url(#bl1)"/>
<ellipse cx="66" cy="421" rx="15" ry="19" fill="#fbfdfb" filter="url(#bl1)"/>
<path d="M-42.0 455.5L96.0 317.5M-40.2 457.3L97.8 319.3M-38.3 459.2L99.7 321.2M-36.5 461.0L101.5 323.0M-34.6 462.9L103.4 324.9M-32.8 464.7L105.2 326.7M-31.0 466.5L107.0 328.5M-29.1 468.4L108.9 330.4M-27.3 470.2L110.7 332.2M-25.5 472.0L112.5 334.0M-23.6 473.9L114.4 335.9M-21.8 475.7L116.2 337.7M-19.9 477.6L118.1 339.6M-18.1 479.4L119.9 341.4M-16.3 481.2L121.7 343.2M-14.4 483.1L123.6 345.1M-12.6 484.9L125.4 346.9M-10.8 486.7L127.2 348.7M-8.9 488.6L129.1 350.6M-7.1 490.4L130.9 352.4M-5.2 492.3L132.8 354.3M-3.4 494.1L134.6 356.1M-1.6 495.9L136.4 357.9M0.3 497.8L138.3 359.8M2.1 499.6L140.1 361.6M4.0 501.5L142.0 363.5M5.8 503.3L143.8 365.3M7.6 505.1L145.6 367.1M9.5 507.0L147.5 369.0M11.3 508.8L149.3 370.8M13.1 510.6L151.1 372.6M15.0 512.5L153.0 374.5M16.8 514.3L154.8 376.3M18.7 516.2L156.7 378.2M20.5 518.0L158.5 380.0M22.3 519.8L160.3 381.8M24.2 521.7L162.2 383.7M26.0 523.5L164.0 385.5" stroke="#5e635e" stroke-width="0.6" fill="none" clip-path="url(#tc2)"/>
<path d="M96.3 412.5L95.7 413.2L96.3 411.5L96.3 412.6M92.3 421.0L94.2 420.9L93.0 420.5L92.9 421.4L94.2 421.6L93.7 422.7L94.8 421.8L93.8 421.4L95.0 421.6L95.9 422.7L97.5 422.7M76.2 448.8L74.3 448.5L73.3 449.6L72.1 451.0L70.3 451.6L69.7 450.7L69.4 452.1L67.7 451.9L66.9 450.8M81.8 408.8L81.6 407.4L81.8 408.6L81.5 407.6L82.4 407.0L83.4 406.4L85.0 405.9L83.6 405.9L82.7 404.7M53.5 437.9L52.4 439.1L53.7 438.0L53.2 438.6L54.0 436.8L55.2 437.7L56.7 438.2L55.9 436.5L55.9 435.5M58.1 450.4L56.6 451.1L57.8 451.4L58.6 452.8M93.6 425.5L94.9 426.8L94.8 425.4L96.3 425.4L96.6 424.4L97.4 424.2M61.2 400.9L62.5 401.2L62.6 399.5L64.0 398.5L65.1 397.3L64.1 397.5L63.4 396.5L64.5 397.3M39.3 409.7L38.5 411.3L37.9 412.2L39.4 412.0L38.8 410.1L38.3 409.1L39.0 409.9L37.9 410.2L39.4 409.4M83.3 424.8L83.3 426.3L82.0 425.0L81.7 424.0L80.5 424.6M46.1 429.6L46.9 430.1L48.6 430.3L49.3 430.8L48.6 429.6L47.4 429.3L46.7 427.8L47.1 429.5L46.4 429.8L44.8 428.8M88.3 409.9L88.7 408.7L86.8 408.5L85.9 407.8L87.1 407.6L88.8 407.8L89.7 408.5L90.6 407.2L91.9 407.3L90.7 408.0M69.2 445.9L70.4 446.1L70.2 445.1L69.3 445.1L68.1 446.3L68.9 447.2L69.7 446.5M83.3 439.3L84.8 438.9L86.4 439.2L86.7 437.5L85.5 437.5L83.8 438.0L83.6 439.4L81.7 439.7M73.5 391.7L72.7 392.3L71.6 391.5L73.0 392.4L72.2 391.9L72.9 393.2M73.8 392.3L75.3 392.2L76.1 393.0L76.3 394.6L75.8 393.4L74.8 393.3L73.0 392.8L73.0 391.9L71.3 391.7L71.2 393.6M30.5 427.7L31.3 426.9L31.5 425.2L29.9 425.5L30.3 424.4L30.2 423.1L31.3 423.5L31.2 425.1M35.1 435.0L36.3 434.8L36.2 433.2L36.4 431.4L36.6 432.9L35.3 433.8L36.9 433.6M88.7 422.7L87.7 421.3L89.6 421.5L89.4 420.0L91.0 418.9L92.4 420.0L92.5 418.9L92.5 417.4M73.6 448.3L73.0 447.0L72.0 446.9L71.6 445.0L71.7 443.8L72.9 443.0L72.4 442.2L70.8 441.2L72.0 440.6M42.8 407.0L42.8 405.3L41.5 406.2L41.9 404.4L42.6 405.2L41.6 406.1L41.4 406.9L39.5 406.2L38.6 407.2L37.6 408.1L38.4 407.3M45.1 401.7L44.8 400.6L44.7 401.7L43.8 403.4L43.2 404.9L41.3 404.6L40.2 404.6L38.7 403.6L39.6 404.7M89.3 413.1L90.2 412.9L90.8 411.7L90.0 412.6L91.2 413.2M74.9 441.1L76.1 440.5L74.9 439.0L74.5 439.8L74.5 440.8L74.0 439.7M40.7 443.9L40.5 445.3L39.3 446.5L39.3 445.4L39.0 443.9L37.5 443.1M50.4 441.2L51.7 439.8L51.8 437.8L51.4 439.3L50.8 438.3L50.0 438.9L51.2 438.5L49.3 438.8L50.1 440.6L50.6 441.2M46.7 438.4L46.8 437.1L45.8 436.8L46.4 435.7L46.1 437.2L46.8 438.2L47.6 437.8L48.2 438.6L48.2 439.9L48.2 441.1M62.0 440.0L63.5 439.5L62.1 438.3L62.4 439.1L61.4 439.5L60.7 440.8L61.9 441.9M52.6 390.5L53.9 390.5L52.3 390.8L51.6 392.4L50.4 391.6L48.5 391.1M95.8 418.9L94.8 419.8L95.8 418.9L95.0 418.4L96.2 417.7L96.8 418.8L95.2 419.3L95.2 420.9M28.5 435.0L30.1 434.7L31.9 435.3L31.9 436.7L31.0 436.3L30.2 436.3L30.8 438.1M74.0 398.8L74.9 399.9L75.5 400.6L76.3 401.2L77.3 401.6L76.2 402.7M83.9 397.2L82.1 397.1L83.2 398.7L83.7 399.6L83.2 400.4L84.0 401.3L83.7 402.1L84.6 402.8M34.1 416.9L34.3 418.5L33.8 417.0L35.2 417.3L35.5 418.3L34.2 417.5L33.0 416.3M53.4 398.2L53.3 396.4L53.4 397.4L52.8 398.9L53.8 398.9M49.2 392.0L51.1 391.5L52.2 390.7L51.9 391.7L52.6 390.3L52.3 392.1L51.1 391.6L49.7 392.4L48.2 392.8L49.4 394.0L49.1 395.9M66.9 441.5L65.5 440.6L66.5 439.8L67.2 440.5L68.5 439.2L69.7 439.0L68.6 438.0M62.7 391.1L63.4 392.5L64.1 391.6L62.9 390.6L64.1 389.5M54.0 438.1L54.4 437.3L54.6 436.5L55.5 436.4L53.8 436.0L52.8 434.5L54.1 435.1L53.8 434.0L52.9 433.5L53.8 435.0L53.5 433.5M39.7 427.5L38.0 427.5L38.8 427.0L38.2 428.9L39.2 428.4M51.5 392.0L50.5 391.2L49.2 392.1L48.2 391.6L48.2 393.6L48.0 391.8L49.0 392.7L47.4 393.9L47.2 395.0M88.4 429.4L89.9 428.8L91.5 429.4L90.3 430.2L91.4 431.0L89.7 430.8L88.3 430.0L88.2 429.0L89.5 429.2M49.0 443.4L49.7 444.4L49.8 442.8L48.2 442.4L49.3 443.6L50.7 443.9L50.6 444.8L49.0 444.2L48.6 443.3M42.3 441.2L41.0 442.7L39.9 441.3L41.0 440.5L41.8 440.3L40.8 441.8L42.4 441.9M93.7 420.9L93.2 419.5L93.4 418.2L93.4 419.3L92.8 418.7M63.5 393.1L63.0 394.9L64.0 395.2L64.5 393.4L62.9 394.5L64.1 395.5M81.4 428.8L81.1 427.9L82.0 426.7L82.2 428.2L84.1 428.1M31.5 433.8L30.3 434.4L29.0 435.8L30.6 435.3M49.6 407.3L51.4 407.2L52.1 408.0L52.5 408.9L51.1 409.8L52.5 409.6L53.0 410.8L53.2 409.6L52.6 409.0M34.4 439.2L33.8 441.0L35.3 440.7L33.8 440.0L33.8 441.7M26.3 428.6L25.9 427.6L27.5 427.3L26.5 428.2L27.9 429.1L28.6 427.9L30.1 427.3L30.0 425.4L29.1 425.1M65.2 451.4L63.2 451.4L63.6 450.2L64.9 449.4L63.6 450.3L64.0 448.5L63.2 447.1L62.5 447.6M43.8 425.5L42.9 426.6L42.7 425.6L43.3 424.6L44.7 425.3L43.1 426.4L42.3 426.7L43.1 426.8L41.4 426.9L42.6 427.3L40.7 427.5M95.9 415.4L96.4 417.1L95.8 418.1L96.1 416.9L94.9 416.1L95.0 415.2L95.3 416.4L94.5 417.3L95.1 415.6M31.4 414.5L31.7 416.0L31.8 417.8L30.6 417.1L31.3 418.1L30.1 418.4L30.5 419.3L29.9 417.5L30.8 416.2M69.5 447.8L68.0 448.2L67.9 447.1L67.3 446.6L66.7 447.3M86.0 425.8L87.0 425.6L87.6 423.8L85.7 424.4L86.6 424.8M44.5 422.5L45.8 421.5L45.3 423.3L43.9 422.9L45.6 423.8L46.0 424.9L47.7 424.1L47.2 422.8L49.0 423.5L49.8 422.6L49.2 424.1M77.6 432.2L78.5 432.4L79.9 433.4L78.0 433.4L79.9 433.1L79.0 432.3M92.9 413.5L93.0 411.8L92.4 412.6L93.7 413.3L95.6 413.9L94.3 413.9L93.3 415.2L92.8 417.0L93.8 418.3M83.5 444.8L83.8 443.2L84.6 442.8L85.7 442.7L85.4 441.0L86.1 439.2L87.2 438.0M69.2 447.0L67.9 447.6L66.2 446.9L65.2 446.7L65.9 446.0L66.8 445.7L67.0 444.0M41.2 401.5L42.0 401.0L42.8 399.5L43.5 401.0L42.3 399.8L41.2 399.5L40.1 399.5L38.8 399.9L39.7 400.6L39.0 401.6M31.3 410.0L30.6 410.9L29.9 411.3L30.3 412.1L30.1 410.2L28.5 411.5L27.5 410.1M43.7 424.6L43.0 422.9L43.3 423.7L43.7 422.5L43.3 423.4M58.9 440.5L57.1 439.7L58.2 439.3L56.9 438.7L57.8 437.8L57.4 439.0L56.7 437.9M68.3 398.2L68.0 399.0L69.9 399.1L70.9 398.2L72.4 399.2L71.1 399.2L70.4 398.4L70.8 400.1L70.6 398.2L68.8 399.0M83.1 405.3L83.9 404.5L82.3 404.9L83.3 405.6L84.0 407.3L82.8 406.9M86.7 425.3L88.4 425.3L88.9 423.5L90.2 422.9L90.9 421.7L90.8 422.8M42.6 405.7L44.3 406.2L44.7 407.3L44.1 409.2L43.3 408.1L43.7 408.9L42.3 410.4L40.8 410.9L41.5 410.3L40.9 411.5M65.3 442.8L63.5 443.8L65.3 444.6L65.4 443.8L66.1 443.3L65.1 443.1M82.4 424.5L82.5 423.1L84.3 422.4L83.1 421.5L83.8 421.9L84.2 423.5L85.2 422.1L85.8 421.6L86.9 421.8M91.1 423.9L92.3 424.9L91.6 423.5L90.7 424.1L92.1 422.9L91.8 421.4L92.9 421.7M62.9 440.1L63.1 441.8L61.8 440.6L62.3 441.4L62.6 442.5L62.2 443.3L61.2 442.0L59.5 441.2L60.7 441.1L60.3 440.1M50.5 429.2L51.2 427.8L50.5 426.9L50.8 424.9L51.7 424.9L51.3 425.8M30.7 425.2L29.7 424.8L30.8 424.1L29.2 423.0L30.0 421.2L30.6 422.6L32.0 421.9L32.8 422.3L33.3 422.9M41.9 437.8L41.1 436.7L41.5 437.9L41.1 438.8L40.0 438.1L39.6 438.8L40.4 438.3L41.2 439.1L41.7 437.2M62.7 402.8L64.0 403.0L62.3 404.0L61.0 404.6L62.9 404.9M76.3 408.2L75.9 410.0L76.7 409.5L77.7 409.4L76.9 408.8L76.1 408.2L77.9 407.8L77.0 406.2L77.4 404.9L79.3 405.1M96.8 421.5L96.4 422.3L97.3 421.6L97.4 419.7L97.9 420.6L96.3 421.5L97.5 419.9L97.3 421.4L98.1 420.5L97.2 420.0M78.2 402.8L79.3 401.6L80.1 401.9L78.2 402.4L79.8 401.9L79.9 403.4L78.3 402.8L79.6 401.7L80.3 399.9L80.2 401.2M49.6 450.6L51.3 450.4L52.6 449.2L53.5 450.6L54.6 449.4L54.4 451.0L53.3 451.8L53.1 450.2M81.7 441.1L83.6 441.6L83.2 440.2L83.8 439.3L85.4 439.3L84.8 437.4M46.2 410.1L46.0 410.8L46.3 411.9L47.1 410.2L47.4 411.5L46.0 411.3L47.9 410.8L49.1 411.1M31.0 416.3L31.2 417.6L29.9 418.0L29.1 416.7L28.5 418.6L28.1 416.8L27.3 416.7L27.1 415.8L27.1 414.7M70.0 401.5L69.4 400.8L69.4 402.3L71.0 401.9L72.7 402.5L73.0 404.0L73.3 404.8L73.5 403.4L72.2 402.4M39.7 408.4L40.4 409.6L41.8 410.7L41.8 412.1L42.8 411.5L42.6 410.4L41.2 410.0M91.6 421.2L90.5 421.9L89.1 420.7L88.7 422.4L89.8 422.1M81.2 422.9L81.6 424.6L82.7 423.7L82.2 425.5L83.4 425.9L83.2 424.9M51.0 407.0L49.5 407.1L49.7 406.0L48.4 405.4L47.1 404.6L46.0 405.1L44.4 406.4M43.5 418.8L41.7 419.0L40.2 418.2L39.0 419.1L40.8 418.8L42.2 418.7L40.5 418.1L39.7 419.1M61.2 394.9L63.0 395.0L62.9 395.8L63.6 394.0L62.7 392.6M43.8 432.6L42.5 433.2L41.5 432.4L42.5 432.4L42.3 433.4L42.6 434.5L42.5 435.5L41.9 434.5L41.2 435.1L42.3 435.4M47.6 402.6L47.3 404.5L48.9 404.2L47.7 404.8L48.9 405.4L49.8 406.5M72.0 400.5L71.2 399.8L69.7 400.1L70.4 398.8L70.8 400.1L72.3 399.1L73.7 399.4L74.7 398.7L73.0 397.9L72.2 398.3L73.2 396.7M72.5 438.7L73.2 440.5L74.4 441.1L73.2 440.9L73.3 439.1L73.5 440.2L72.1 440.4L70.9 439.1L69.9 440.7L69.1 440.9M36.2 432.7L37.2 432.2L36.6 433.3L34.8 434.0L34.0 435.0L35.2 433.9M75.0 439.4L73.2 439.2L74.7 438.8L73.4 439.4L73.9 437.9L74.1 436.7L73.2 436.1L72.5 435.7L73.6 435.0L74.4 434.2M90.6 422.9L91.2 424.2L90.8 425.4L91.9 427.0L93.3 427.1L93.5 425.2L94.6 424.5L94.5 422.7M66.7 439.1L66.6 440.0L66.3 439.0L65.3 439.9L64.8 438.2M47.0 407.4L47.5 406.6L48.3 406.0L47.5 407.0L48.2 405.3L46.7 405.8M56.6 446.5L58.0 446.7L57.5 447.7L58.0 446.7L56.9 447.4M76.9 436.7L76.2 435.6L76.9 436.5L75.4 436.3L77.2 435.5L76.7 434.2L75.6 435.4L77.5 435.1L79.4 434.8M85.1 434.1L85.5 432.6L87.1 432.3L85.7 433.4L84.6 432.4M34.1 405.2L32.7 404.7L31.3 405.5L32.5 406.8L31.8 406.1L31.7 404.6L32.3 405.1L33.6 405.8L32.5 406.0L33.1 406.6M36.7 435.8L36.9 434.6L37.5 435.3L37.9 436.9L38.5 437.5L38.6 438.3M57.6 392.7L58.7 394.3L57.6 394.1L58.3 394.9L58.2 393.1L59.1 393.0L57.9 393.0L56.0 393.1L56.6 394.5M41.7 428.7L40.7 427.7L40.8 429.5L42.3 429.1L41.4 428.9L39.7 429.1L39.1 430.3M39.0 427.6L37.8 426.7L39.1 426.1L39.8 425.5L40.9 424.0L40.8 422.8L40.6 423.6L39.7 423.1L38.6 421.7M94.8 416.7L95.4 417.3L93.6 416.6L95.4 416.6L95.2 417.6L96.4 417.8L97.6 418.6L96.6 418.8L97.8 417.8M62.8 402.0L62.9 400.8L61.5 400.2L60.9 401.1L62.8 401.0L63.4 400.4L62.6 401.5L63.6 401.6L62.8 402.4L62.0 402.6M44.1 393.0L44.1 394.1L43.7 393.4L42.6 394.0L43.3 393.4L41.6 394.4L41.6 395.8L41.2 396.9M91.6 433.3L91.5 432.4L91.9 431.5L90.3 432.5L92.0 431.9L91.4 432.4L89.8 433.1L90.6 432.4L91.8 433.6L92.4 432.7L92.2 431.1M56.1 391.6L56.1 390.0L54.4 389.7L54.8 391.6L53.1 391.7L53.6 392.4L53.6 393.9M84.4 405.1L82.8 405.7L82.3 405.1L80.8 403.8L80.9 404.7L80.5 405.3L81.6 405.3L82.7 406.3M96.4 424.2L95.7 425.4L95.8 424.2L96.2 423.1L97.0 424.3L95.9 423.9L95.6 425.8L94.0 425.8M36.0 433.1L35.5 432.4L36.4 431.9L35.2 431.4L33.5 431.5L34.7 431.4L35.5 430.6M46.2 395.1L45.6 393.3L45.5 394.2L46.9 394.0L48.1 393.0L49.3 392.1L50.9 391.6L52.2 391.4L52.5 392.4L51.1 392.8M51.3 399.1L50.7 399.5L49.1 399.2L49.2 400.9L49.8 402.7L48.0 403.4L46.7 402.3M79.0 441.7L80.2 440.3L80.4 439.1L79.8 438.4L80.9 439.3L80.8 438.2L81.7 438.2L81.1 439.3L82.5 438.4L83.7 437.3M51.4 393.8L52.6 395.4L54.0 395.7L52.3 395.0L52.4 394.0L51.1 394.5M27.6 410.9L28.5 410.0L27.5 410.5L28.0 411.9L26.5 412.5M50.2 406.0L49.8 405.1L48.7 404.0L47.9 403.6L49.4 402.9L48.2 403.6L47.2 403.1L48.2 403.1L50.1 403.2L49.2 402.9L47.8 402.8M43.7 429.1L44.1 430.2L43.0 430.9L41.3 431.9L39.8 431.8L40.8 432.8L40.9 431.1L42.4 430.7L41.1 432.1L43.1 431.8L44.3 432.9M73.8 437.5L75.3 438.8L76.8 438.8L76.7 437.3L77.1 438.4L75.2 439.0L75.7 440.2L76.0 438.5L75.7 437.0L77.2 436.8L77.7 436.2M53.4 440.4L55.2 440.1L54.3 438.6L54.9 437.8L53.5 436.3L54.2 437.5L52.9 438.8L52.0 439.1L50.9 440.2L50.1 439.9M70.8 402.6L71.6 402.7L72.2 403.2L72.5 404.2L73.5 403.6L73.0 404.3L72.3 402.8L73.3 401.2L74.3 400.7L73.4 401.3M48.0 437.8L49.7 437.7L50.4 439.3L49.3 440.1L49.1 441.1L50.3 441.0L50.8 442.7L51.8 443.5M89.2 418.5L90.5 417.7L89.4 419.3L88.3 419.0L88.4 420.8L89.6 419.4M61.1 446.9L60.1 447.1L59.2 447.5L60.4 447.8L60.9 447.0L62.7 446.7L64.2 446.6L63.6 448.2L64.4 449.4M75.7 399.3L76.9 398.9L75.6 398.7L76.5 399.2L76.1 397.9L75.2 397.3M58.4 439.0L58.6 437.8L60.5 437.7L60.1 438.5L59.8 437.0L59.7 437.8L59.3 439.7L58.6 438.2L58.3 437.2L59.2 436.2M46.9 393.6L45.9 394.2L45.8 395.4L46.7 394.7L46.7 395.6M54.7 390.5L55.7 390.3L56.6 389.9L57.3 389.4L58.2 389.8M34.2 435.4L35.8 434.5L36.7 433.4L35.6 432.0L35.7 434.0L36.1 432.6L34.5 431.5M84.3 422.7L83.7 424.1L82.5 423.8L81.6 424.1L79.9 425.0M57.4 403.8L55.5 403.5L55.7 405.1L55.9 406.3L54.2 405.8M41.4 416.7L42.0 415.9L41.4 417.0L42.7 416.9L41.9 416.3L41.3 414.6L40.9 415.9L40.0 417.2L38.3 416.3M34.6 404.2L35.6 403.1L34.9 401.6L34.1 400.7L33.2 401.7L33.6 400.0M68.6 442.6L68.9 443.9L68.5 442.7L67.4 443.7L65.9 443.9L66.2 445.1L67.5 443.8L68.5 443.2L68.5 444.4M81.7 401.4L83.7 401.5L82.3 400.7L82.5 402.5L81.5 403.7L83.0 404.3L83.9 403.0L84.4 401.6L82.7 401.0L83.2 402.1L83.8 400.5M89.0 406.1L88.5 407.3L88.4 408.4L87.5 409.0L87.9 408.2L88.8 407.8L88.0 408.8L86.3 409.5L85.0 409.9L83.8 410.4M27.7 409.4L27.9 411.0L28.1 409.6L28.2 411.0L28.2 413.0L26.8 413.3L26.2 414.5M90.0 403.1L90.8 403.1L90.6 403.9L91.1 403.1L91.3 402.1M68.8 440.9L68.3 439.2L66.5 438.8L65.2 439.4L65.7 437.9M90.7 413.0L91.9 412.6L91.3 413.7L89.5 414.2L88.2 413.5L87.7 414.6L86.0 415.1L87.5 414.1M68.9 451.4L70.4 451.3L71.6 451.4M62.2 450.5L62.2 448.8L61.0 448.2L61.2 449.1L60.0 449.0L60.5 448.3L61.5 448.9L59.9 448.4L59.2 447.6M89.0 433.9L90.0 434.0L89.3 433.1L89.3 431.5L88.4 432.6L87.3 432.6L89.1 432.0L88.5 430.9L89.1 430.1L88.7 432.0L89.7 432.8M96.0 425.8L96.0 425.0L97.1 424.0L97.8 422.8M67.5 445.6L66.1 444.9L64.9 444.8L63.2 445.7L62.2 446.2L64.0 446.4L65.0 446.9L64.1 446.2L62.7 446.4L60.9 446.8M75.4 403.4L75.0 402.5L75.8 403.5L75.0 404.6L74.1 404.3L73.7 406.0M61.1 394.5L61.9 395.9L62.7 395.8L61.2 395.5L62.0 395.7M59.7 450.1L60.1 451.9L60.5 450.2L61.8 450.5L62.9 452.0L63.9 452.8M92.6 427.8L91.9 428.0L90.0 428.1L90.6 429.3L88.9 428.7L90.5 428.8L92.0 429.6L93.4 429.1L94.5 429.2L92.7 429.5M41.2 428.8L41.3 430.2L42.8 430.2L43.0 429.3L44.3 429.8L42.9 429.1L42.5 430.9L40.9 430.5L39.7 429.5L41.6 429.8M65.2 395.2L63.7 396.4L64.0 397.8L62.3 398.6L61.7 397.5L62.6 398.1L64.1 399.5L63.8 400.4L64.7 400.6L63.6 399.8M33.4 407.1L31.9 406.2L32.3 407.7L31.4 407.5L30.9 408.6L30.3 409.3M78.2 392.7L76.9 392.7L77.9 393.2L79.1 393.9L80.3 394.9L78.4 394.5L79.1 393.1M73.1 396.6L73.3 397.5L73.2 398.5L73.0 396.7L72.2 396.2L71.3 397.3L69.7 396.4L70.4 394.7L71.2 395.5L71.7 397.1L73.5 397.2M34.1 435.1L34.9 433.9L36.3 433.6L35.3 434.2L34.3 433.2M51.2 443.0L50.3 443.3L49.5 444.6L51.0 445.2L51.9 444.8L51.3 445.5L52.1 445.9L53.2 447.3M81.4 438.2L81.6 436.9L83.0 438.2L83.3 439.7L82.7 438.4L82.1 439.1L81.3 439.4L80.0 439.1M84.1 430.3L83.9 429.1L83.3 428.4L84.1 429.9L84.5 431.0L83.4 429.6L84.9 429.9M56.1 441.6L54.9 441.9L55.3 442.8L54.9 444.7L56.0 444.5L57.4 444.7L58.2 444.0M87.8 419.6L89.0 420.6L87.4 420.9L88.2 419.9L88.7 421.5M51.8 430.4L50.1 430.2L48.8 429.0L47.7 429.2L46.2 428.8L47.1 430.0M36.9 426.7L35.2 427.1L33.9 426.2L34.8 427.9L34.2 426.0L33.9 425.2L33.0 423.8L34.2 422.5M87.8 403.1L87.6 401.3L86.0 400.5L86.1 401.7L86.9 402.2L87.1 401.3L87.2 400.1M90.1 427.6L90.5 426.0L91.2 424.2L89.6 424.5L90.5 425.4L90.2 426.3L91.5 425.6L90.5 425.3M38.1 402.3L37.4 404.0L38.2 402.8L37.3 401.9L37.3 399.9L36.4 399.0L37.1 398.6L37.3 400.2L38.3 401.0L39.2 400.7M39.6 405.5L39.2 404.0L37.7 405.0L36.8 405.0L36.7 406.4L35.4 407.1L35.8 405.8L35.0 406.2L33.0 406.5L33.4 407.5L32.0 407.4M43.3 414.9L43.3 416.7L43.8 416.0L43.9 414.7L42.7 415.3L43.3 414.6L45.1 413.9L43.3 414.7L43.8 413.2L42.2 412.8L40.6 412.0M63.7 443.8L63.4 445.1L62.4 445.2L63.6 446.5L64.3 448.4M50.7 391.1L48.9 391.0L48.0 391.7L47.1 391.9L48.0 392.4L47.3 393.3L46.4 392.5M67.1 444.3L68.4 444.7L67.9 446.3L68.0 447.4L68.9 447.5L70.1 448.6L70.7 447.0L69.8 446.9L69.3 446.3M87.1 403.8L86.3 404.3L86.5 405.1L84.5 405.1L83.5 406.1L84.7 407.4L84.0 408.3M74.0 395.7L74.7 396.2L74.8 397.3L75.2 396.1L76.6 396.6L76.1 397.3L74.9 397.5L73.5 398.1L73.9 399.0L74.9 397.7M70.2 395.4L69.3 394.6L69.9 393.4L69.8 394.7L70.2 396.4M93.1 415.2L93.5 413.9L92.0 413.2L92.1 411.9L92.0 411.0M81.4 409.8L81.1 408.0L81.1 409.0L80.3 408.6L81.1 408.7L81.5 407.0L80.4 407.9L79.4 407.3L78.7 408.4M59.3 448.5L59.6 450.1L61.1 450.5L60.8 449.5L61.4 448.2L60.5 448.9L61.6 448.7L60.4 449.7L61.7 450.3M87.5 407.1L87.1 406.5L87.4 408.4L86.5 408.2L85.0 407.5L85.8 407.0L85.5 406.1L84.6 404.9L85.6 405.1M33.5 434.5L32.5 433.5L32.8 434.6L32.1 435.3L31.7 434.2L31.4 433.4L31.7 434.1M68.0 450.4L66.9 451.1L68.6 451.7L67.2 451.0L66.8 451.8L65.4 451.5L67.2 451.9L68.0 451.4L69.8 450.8L69.0 451.8M50.2 411.1L49.8 409.5L48.6 410.2L48.1 408.9L49.2 409.3L48.8 410.1L47.8 409.9L47.2 408.6M69.1 396.4L70.8 396.8L70.5 394.9L69.9 395.8L69.8 394.7L70.7 393.9M53.3 449.4L55.0 449.6L55.3 450.9L56.4 452.3M39.1 441.0L39.5 442.1L38.3 441.9L39.1 441.6L37.6 441.6L37.9 440.3L37.3 439.6L36.9 441.4L38.3 441.6L40.0 440.6L40.7 442.5M43.0 424.4L42.2 425.1L42.3 423.3L43.1 424.2L44.2 424.5L43.5 426.2L43.5 427.2L45.1 427.8L44.7 426.1L46.3 425.1L46.1 426.8M33.1 433.8L32.6 433.0L30.9 432.1L30.7 430.5L29.8 428.9M26.3 422.0L26.0 423.7L25.4 425.1L26.1 425.5M53.6 400.4L54.3 400.0L55.6 400.6L54.2 401.7L54.8 401.0L55.6 400.7L54.8 401.5L55.3 402.3L55.7 401.2M42.0 446.4L41.4 445.4L42.6 444.3L41.1 443.7L39.8 442.9L40.5 441.4L41.5 441.6L40.8 443.1M81.4 444.0L80.4 442.3L80.9 440.8L81.5 442.3L81.0 441.3L82.0 440.7L83.2 441.2M88.2 405.8L89.4 407.2L88.4 406.8L89.4 406.0L89.7 407.6L88.7 409.1L89.7 407.3L88.1 408.1M67.0 447.4L68.3 447.3L67.5 447.6L67.4 446.7L66.4 446.8M78.9 410.6L78.5 412.2L80.0 412.2L81.1 411.8L79.5 411.9L79.3 412.9L79.7 412.3M64.7 444.7L65.5 444.2L66.1 442.7L67.6 443.6L67.1 444.5M43.4 409.5L43.7 410.3L44.2 408.6L44.9 407.5L44.4 406.1L44.3 407.4L45.6 408.6M52.4 394.4L51.1 395.3L51.7 394.6L51.1 395.8L49.9 396.2M36.3 441.4L37.1 442.1L35.5 442.9L35.3 441.6L36.9 440.4L35.3 439.4L33.6 439.7L35.2 439.3L34.3 438.3L34.1 439.2L35.0 440.5M50.1 448.2L51.1 447.6L52.1 447.0L53.9 447.2L53.2 447.7M37.0 401.3L36.4 400.0L36.4 401.4L37.3 402.4L36.2 401.6L36.0 399.9L37.0 398.6L35.8 399.4M50.1 433.8L48.4 433.8L49.4 434.8L48.0 435.6L49.2 436.2L50.1 437.1L48.7 437.1L49.5 437.2L49.8 436.1L48.5 436.8M62.7 399.0L61.7 400.6L60.0 399.7L60.3 398.0L61.9 397.7L63.3 398.2L61.9 398.4L63.8 398.1L63.5 396.4L64.8 396.4M40.0 425.0L41.8 425.3L43.0 425.2L44.3 425.5L45.9 426.6L44.9 426.5L44.5 425.1L43.5 424.8M95.7 414.5L96.5 415.0L97.7 414.9L97.4 414.0L96.6 415.0L95.6 415.2L96.3 415.8L96.9 415.1L96.5 414.0M87.0 442.5L86.4 441.6L86.0 443.2L86.9 442.8L86.5 441.0L86.4 439.0L86.4 440.1L87.7 439.8L87.2 438.5M48.1 414.7L47.4 415.9L46.8 416.6L47.1 414.7L47.5 416.4M32.7 423.1L33.2 424.3L34.5 424.1L35.2 422.8L34.4 424.5L35.9 425.1L36.0 423.3L37.5 423.9L36.8 425.4L38.2 425.8L37.0 425.8M55.3 448.7L53.9 449.3L53.8 448.2L52.8 449.7L54.5 450.2L55.7 450.6L57.6 450.1L56.5 450.1L56.5 449.1M88.2 408.9L88.8 409.9L88.7 409.0L88.1 407.1L88.1 408.2L86.5 407.2L86.8 408.0L85.7 408.6M85.2 441.8L84.7 441.0L83.8 441.5L85.7 442.1L85.7 440.9L86.6 441.5L87.5 441.4L88.5 441.6L87.0 442.9M91.5 404.8L92.7 406.1L93.7 405.8L92.7 404.3L92.2 405.5L92.8 406.7L93.7 406.0L92.9 406.5M47.2 434.3L45.6 435.4L46.9 434.6L45.4 434.2L45.4 435.1L43.7 435.1L43.9 436.7M83.2 402.7L82.1 402.9L83.5 403.1L85.1 403.9L84.2 403.5L84.4 404.3L85.0 405.3L84.1 406.2M95.6 431.2L96.4 430.2L96.4 429.1L96.1 428.2M82.1 395.7L81.7 395.0L82.2 396.0L81.2 396.8L82.2 397.5L82.1 395.5M51.2 451.4L51.1 450.4L52.3 451.4L53.9 451.6L54.7 451.8L55.7 450.7L56.3 452.4L57.5 452.2M91.0 415.2L89.8 414.6L89.9 412.8L89.2 413.3L89.7 411.8M86.2 426.0L85.2 427.4L84.4 427.9L85.1 428.6L84.0 429.5L85.9 429.5L85.0 428.9L83.5 427.6L84.0 428.3L84.0 429.8M86.1 407.9L86.0 406.8L86.9 407.0L88.0 407.4L86.7 406.5L85.6 405.5L86.5 406.1L85.8 406.3L84.4 405.2L84.9 403.4M65.1 443.6L65.2 444.7L64.1 445.9L63.1 446.3L64.1 446.5L62.8 445.5M64.7 441.4L66.0 441.3L65.0 441.9L64.5 442.8L63.6 444.2M56.2 439.9L55.8 438.5L56.0 439.6L55.3 440.2L54.1 439.5L53.7 438.7L55.0 437.9L53.9 437.5L53.7 436.5L54.7 436.1M38.1 421.7L38.2 423.2L39.9 424.1L41.4 423.4L42.3 424.1L43.2 425.0L43.8 424.4L44.8 425.0L43.7 425.1L42.1 425.6M36.2 425.8L35.6 427.5L35.4 425.8L34.3 425.0L33.0 423.5L31.3 424.0L29.8 423.7L31.0 423.2L29.4 423.5L30.7 423.4M28.3 421.7L30.1 422.4L29.1 421.0L28.4 420.4L26.6 420.1L27.1 421.7L27.9 422.5L27.1 422.7L26.1 423.8L26.3 422.7M85.3 406.0L84.0 406.2L82.2 405.9L81.6 406.8L82.4 407.7M88.7 418.4L89.2 419.8L87.8 418.7L88.1 420.0L87.2 420.1L87.5 419.1L87.3 418.0L87.5 416.1M81.4 429.9L81.3 428.8L81.3 427.1L82.3 428.0L81.4 428.0L82.5 428.1L82.5 427.0M49.1 451.0L49.8 450.6L51.1 449.5L51.4 450.4L51.8 449.6L50.7 450.1M43.9 414.1L45.1 413.9L44.0 415.4L45.2 416.5L45.1 417.5L46.3 416.9L45.7 418.3L44.0 417.6L43.6 416.4M80.3 397.0L79.7 395.2L78.0 395.2L76.8 396.0L76.9 395.1M54.2 397.8L54.0 399.2L53.1 397.9L53.5 397.2L52.6 397.6L53.8 398.5L55.4 398.3L56.6 399.2L54.8 399.2L54.8 398.3L54.6 399.5M36.1 414.2L37.1 415.6L38.2 416.0L38.6 417.7L39.1 419.5M95.8 415.2L95.4 416.2L96.8 417.0L96.1 415.4L97.3 415.2L96.4 415.6L96.1 416.7L94.8 416.7L95.3 415.6M44.8 435.6L46.6 436.5L47.0 438.0L46.5 438.8L45.8 437.4L47.3 437.8L48.4 437.2L46.5 437.8L46.2 436.0L44.5 436.4L44.1 437.3M55.6 439.6L55.9 440.5L54.6 441.0L54.4 442.2L55.4 441.6L57.2 441.6L56.1 440.1M44.3 428.8L45.2 427.6L46.4 428.1L47.5 426.6L48.1 425.9L49.2 425.1L48.7 424.4M93.7 417.9L93.9 416.9L94.9 416.4L94.8 414.8L93.2 414.2L93.6 412.7L95.2 412.4L96.1 410.8L95.9 411.6L95.1 410.5M33.2 413.8L32.1 414.2L31.4 413.8L32.3 414.1L31.9 412.8L33.2 413.1L31.5 413.1M35.4 419.4L36.2 419.7L34.3 419.7L34.9 417.8L34.7 418.9L34.9 417.6L36.4 416.8L35.6 418.6L37.5 419.1L38.9 418.3M75.5 434.6L77.2 435.4L76.7 437.2L77.2 437.9L77.0 436.6L75.9 435.2L77.2 436.3L79.1 436.3L77.9 436.3M82.4 426.2L84.0 426.3L82.6 427.0L83.8 428.5L82.4 429.6L83.3 428.8L83.7 430.0M25.4 415.3L26.5 416.9L28.0 416.5L29.5 415.3L27.7 415.2L26.5 414.6L26.7 413.8L26.3 412.9M52.7 396.1L52.1 396.8L53.8 396.5L54.6 395.6L55.2 396.3L56.4 395.6L56.8 397.4L57.6 396.8L58.0 395.8L58.8 396.5M48.0 400.6L49.4 399.5L48.9 401.3L49.7 399.4L50.8 400.8L52.1 401.9L52.3 400.0L53.0 399.1M48.7 430.0L49.5 429.3L49.7 431.2L49.3 430.4L49.3 429.4M32.2 431.4L31.1 432.4L31.9 430.6L30.4 431.4L28.7 431.8L28.2 432.9L29.8 432.5M87.4 402.2L87.8 403.8L88.2 402.7L87.3 403.7L88.4 405.3M92.2 429.2L91.8 428.1L91.5 430.0L89.8 430.4L90.0 431.8L90.5 433.3L91.3 432.9L90.8 431.1L89.9 430.8L91.0 432.0L90.7 431.1M46.5 434.2L46.9 433.2L45.2 432.2L43.6 431.3L42.6 430.6L42.2 431.8L40.8 432.5L41.9 433.5L42.2 435.4L42.3 437.2L40.9 436.4M36.6 415.7L37.3 415.3L38.2 416.5L37.0 417.8L35.6 417.3L36.8 417.6L36.6 419.0L36.7 419.8L37.4 418.7L36.6 419.3M81.3 429.4L81.6 427.6L82.9 426.9L82.4 427.7L83.0 426.6M47.1 407.3L48.7 407.6L47.8 408.3L46.1 407.9L45.0 406.5L46.3 406.5L47.6 405.6L46.7 404.5M36.1 400.7L34.3 400.5L33.7 401.1L34.5 401.5L33.5 402.4L34.9 401.4L35.8 400.9L37.2 401.4L35.8 402.1L36.9 400.8M53.6 409.3L53.0 408.7L52.6 407.9L51.5 408.4L51.1 407.5L52.5 408.5L53.1 409.8L51.7 409.0L51.9 410.3L51.5 411.3L50.8 411.9M38.1 398.1L38.9 398.9L37.2 398.7L37.9 400.4M50.8 430.0L50.2 430.8L48.8 429.9L48.2 430.8L46.9 429.8L45.4 429.3L45.5 428.3L47.2 427.7M44.5 419.4L43.6 419.8L44.5 418.1L44.1 418.9L45.8 419.0L44.8 419.6L44.6 421.5M93.7 435.9L92.7 434.4L92.8 433.5L92.0 434.4L91.5 436.3L90.1 435.6L90.1 436.8L91.2 435.7L91.9 434.3L93.7 435.0M74.1 436.0L74.2 436.9L74.7 435.9L76.5 435.8L74.8 435.2L73.6 435.5L74.4 434.3L75.9 434.6M56.7 398.6L56.9 397.8L56.0 396.9L55.4 396.3L54.1 396.1L54.9 396.4L55.1 397.8L56.0 398.0L57.0 399.2L57.9 398.8M42.6 422.1L42.8 423.3L42.0 422.7L41.3 421.5L41.9 423.1L40.6 421.8M66.5 401.0L67.9 401.6L68.4 399.8L69.8 400.1L68.0 400.9L69.1 401.4L67.7 402.0L67.7 403.0L67.3 401.1L66.6 402.4L65.8 403.1M86.3 409.8L87.8 410.9L87.1 412.7L87.8 413.2L88.5 414.4L88.6 413.5L90.3 413.8L90.8 415.0L89.3 416.4M46.4 424.2L47.5 424.5L46.0 425.0L44.5 424.4L45.0 425.6L44.7 424.8L43.0 424.9L44.3 424.5M33.5 429.0L34.7 430.2L33.1 430.8L34.2 430.3L32.9 431.4L34.4 430.2L33.6 431.0M39.5 398.6L38.6 397.6L38.3 399.1L39.4 399.1L40.4 398.3L39.9 398.9L40.2 397.6L40.8 396.8L39.9 398.3L39.1 396.8L37.5 396.7M48.1 432.1L49.3 431.0L49.8 432.2L48.2 431.6L49.3 430.1L50.7 429.4L50.0 428.3L49.6 427.1L50.5 426.4M37.3 417.8L37.0 416.8L37.5 417.7L35.7 418.4L35.8 419.4L34.2 418.8L35.8 418.4L36.4 419.7L36.1 420.7M60.4 438.8L58.8 439.8L57.1 439.7L56.0 438.1L55.3 439.0L56.2 437.8M30.3 433.0L30.5 431.2L32.2 431.1L31.8 432.2L30.5 432.7L31.2 434.3M41.6 438.8L41.2 437.9L40.4 436.8L42.3 437.4L42.6 438.7L42.5 440.4M84.8 396.4L85.6 397.1L83.9 397.5L85.6 397.1L86.1 398.9L87.7 398.5M35.8 398.0L37.0 397.9L36.8 398.8L38.1 397.9L38.3 399.0L36.6 399.7L37.5 400.4M53.8 446.5L52.1 447.0L53.7 447.9L55.7 448.0L55.2 449.2L53.9 449.2L53.7 450.5M32.1 421.4L33.4 421.5L33.7 423.3L32.8 423.7L33.9 422.0L32.7 421.7L31.6 422.4L30.8 422.1M35.9 398.2L35.2 398.9L35.9 400.2L37.4 400.6L36.2 401.0L37.4 400.3L35.8 401.1L36.7 400.7L37.9 402.2M51.6 393.7L53.0 393.2L53.5 394.7L52.3 395.7L51.0 396.1L49.4 395.5M33.1 435.1L31.7 435.9L33.1 436.5L32.2 435.0L33.2 436.5M49.8 444.2L48.7 444.2L48.0 442.4L48.4 441.0L49.5 441.1L50.2 441.9L51.9 441.5L51.0 441.2L51.2 442.8M67.1 393.3L66.2 393.4L65.8 394.4L67.1 393.2L66.5 392.2L67.0 391.3L67.9 390.5M57.2 443.4L56.6 444.9L57.5 443.7L56.5 443.1L54.7 442.8L53.9 441.0L53.7 439.1L54.7 439.5L54.5 440.4L53.2 440.3L52.4 440.0M88.5 402.2L90.4 402.8L89.1 403.1L87.9 402.9L88.8 402.3L88.0 401.9L89.0 401.3L89.5 403.0L90.5 403.7M84.1 427.6L85.2 426.4L84.9 427.3L86.4 426.8L85.9 425.5L87.1 425.6L87.3 423.8L88.3 424.0L89.9 423.4L88.7 424.9L87.1 425.1M44.9 424.3L44.9 423.4L44.5 422.6L45.1 423.8L44.1 422.9M63.0 448.6L63.4 449.9L63.4 448.1L62.7 449.7L62.7 450.7L61.8 449.0L62.2 448.3L60.7 449.0L60.9 447.3L61.8 447.3M39.4 419.3L40.3 419.1L39.3 419.4L38.1 421.0L37.1 419.5L35.7 418.2L34.3 417.9L34.1 419.0L35.2 417.8L34.3 418.4M55.8 446.9L54.5 447.1L52.9 447.1L53.7 446.0L55.5 446.3L57.0 445.5M30.4 438.0L31.5 437.5L30.7 436.8L31.0 438.1M96.4 422.3L96.5 423.8L97.6 424.0L96.4 424.1L96.5 425.7L97.3 424.5L96.3 424.1M39.3 441.0L40.7 441.9L41.5 440.9L40.9 441.7L39.3 441.7L39.2 443.6L40.2 443.3L41.5 442.3L40.4 443.0L40.0 443.7M42.1 408.3L40.7 407.4L39.5 407.2L38.0 408.0L39.8 408.6L40.4 407.2L39.6 407.0L39.5 406.2L40.1 406.9L41.1 406.5M56.5 434.4L57.3 433.9L56.7 433.3L55.9 434.8M77.2 434.8L78.3 434.4L79.9 435.2L80.4 437.1L80.4 435.3L78.7 434.7M45.5 409.7L45.0 408.3L46.1 408.7L45.2 407.2L44.1 405.7L45.7 405.0L44.5 404.6M74.3 449.9L74.8 449.1L76.1 449.0L77.3 449.1L75.5 449.3L74.6 450.6M44.0 422.4L43.0 422.4L44.6 423.3L44.5 425.1L43.7 426.4M54.5 441.7L54.5 440.8L54.8 439.8L53.8 438.4L54.8 437.1L56.0 436.0L55.7 434.8L55.8 436.1L56.1 437.0M41.9 413.7L40.3 412.6L39.0 414.0L38.3 415.8L38.8 414.8L38.1 415.7L37.0 415.5L37.1 414.1L38.5 415.0L37.2 414.1L37.1 412.8M44.7 397.6L45.8 397.7L45.6 395.9L45.1 394.7L43.8 394.9L44.5 395.8L46.0 395.4L47.4 394.7L47.4 396.1L47.4 397.0L45.8 396.1M85.7 433.8L86.8 433.5L86.3 431.7L86.9 430.2L85.5 429.1L85.8 428.3L85.9 430.1L85.7 428.7L87.2 429.1L88.2 427.8L86.8 428.4M31.1 428.9L30.1 428.1L28.9 427.2L27.1 427.9L27.5 426.1L28.2 426.4L28.9 428.2M33.9 438.1L34.8 438.0L33.7 437.2L34.0 435.8L35.7 436.2L34.7 434.9L36.4 435.9L36.9 437.0M34.0 425.5L34.8 424.3L35.6 423.4L35.7 424.2L35.6 425.7L35.0 424.0L35.6 423.2M36.5 412.0L37.1 411.4L36.0 412.4L36.7 410.7L36.0 411.2M73.6 397.8L72.7 398.9L71.9 399.1L73.3 399.5L72.3 398.3L70.7 398.3L70.7 399.4L72.2 398.6M83.8 417.1L82.8 417.1L84.4 416.8L85.6 416.5L85.2 415.4L85.7 414.7L86.2 415.3M83.7 396.4L82.7 395.8L81.4 396.3L80.1 395.7L78.7 396.2L77.7 397.0L78.7 398.7L77.3 399.6M47.3 434.3L46.3 432.8L45.3 432.4L46.9 433.4L47.8 434.9L46.6 434.9L45.1 436.0L46.2 435.5L45.5 434.5L44.6 433.8L45.2 433.2M36.5 423.6L38.0 423.0L36.9 423.6L36.5 424.4L37.2 425.3L37.2 424.2L36.4 425.0L36.7 426.3L37.6 425.6L38.6 424.0M29.8 407.7L29.1 406.7L29.2 408.5L29.0 407.6L30.1 409.2M53.2 438.9L53.0 438.2L53.8 437.8L54.2 436.7L53.2 437.2L51.9 437.1L50.8 436.7L51.0 437.9M30.3 430.6L31.3 430.2L31.4 431.5L30.7 432.6L29.7 431.6L31.4 431.9M43.6 407.6L42.9 406.4L43.9 407.0L42.3 407.1L41.1 405.6L40.1 407.3L39.7 408.9L40.2 407.5L41.6 407.4M65.0 439.3L66.3 439.2L67.3 440.4L68.2 440.2L69.8 439.6L69.7 438.7M33.2 435.6L34.5 435.3L33.7 434.9L33.3 436.1L33.7 435.3L32.9 436.8L34.5 437.5L34.1 435.8L33.9 434.3L35.6 433.3L35.7 434.4M68.0 393.4L68.0 391.6L67.1 392.0L66.1 391.6L65.5 390.1L64.8 390.7L63.0 391.3L64.0 392.7L65.4 392.2L66.3 393.7L67.6 394.6M78.7 398.9L80.4 399.0L79.7 397.8L77.8 398.0L77.2 396.9L78.5 395.6L77.2 395.9M40.8 403.0L40.5 404.8L42.0 404.0L40.3 403.9L38.7 404.1L39.1 405.9L39.8 405.5L39.1 404.9M79.4 428.6L78.7 429.3L79.3 430.7L78.9 431.8L80.0 430.8L80.9 430.5M43.4 406.8L42.9 405.0L43.7 405.8L44.1 407.1L43.0 405.7M57.1 451.4L56.2 451.3L55.8 452.4L57.3 451.5L57.7 449.6L57.9 448.3M86.8 443.4L85.0 442.9L83.4 442.0L84.6 442.7L85.0 444.6L84.1 444.3L85.0 442.8L83.6 444.2L83.8 442.6L82.7 443.8L83.6 444.3M42.5 423.1L41.1 424.3L40.6 425.2L42.4 424.4L41.5 425.5L40.4 426.5L39.9 427.5M36.3 402.2L36.3 403.0L36.3 404.2L37.8 402.9L37.0 403.4L35.2 403.8L34.5 403.0L34.2 404.7M28.0 411.6L29.1 411.3L27.5 412.2L27.4 410.6L26.5 411.4L27.8 411.5" stroke="#45b45c" stroke-width="0.45" fill="none" stroke-linejoin="round"/>
<clipPath id="tc3"><ellipse cx="141.5" cy="399" rx="32.5" ry="26.5"/></clipPath>
<ellipse cx="141.5" cy="399" rx="34.5" ry="28.5" fill="#e6f7e6" filter="url(#bl1)"/>
<ellipse cx="146" cy="398" rx="15" ry="18" fill="#fbfdfb" filter="url(#bl1)"/>
<path d="M41.0 432.5L175.0 298.5M42.8 434.3L176.8 300.3M44.7 436.2L178.7 302.2M46.5 438.0L180.5 304.0M48.4 439.9L182.4 305.9M50.2 441.7L184.2 307.7M52.0 443.5L186.0 309.5M53.9 445.4L187.9 311.4M55.7 447.2L189.7 313.2M57.5 449.0L191.5 315.0M59.4 450.9L193.4 316.9M61.2 452.7L195.2 318.7M63.1 454.6L197.1 320.6M64.9 456.4L198.9 322.4M66.7 458.2L200.7 324.2M68.6 460.1L202.6 326.1M70.4 461.9L204.4 327.9M72.2 463.7L206.2 329.7M74.1 465.6L208.1 331.6M75.9 467.4L209.9 333.4M77.8 469.3L211.8 335.3M79.6 471.1L213.6 337.1M81.4 472.9L215.4 338.9M83.3 474.8L217.3 340.8M85.1 476.6L219.1 342.6M87.0 478.5L221.0 344.5M88.8 480.3L222.8 346.3M90.6 482.1L224.6 348.1M92.5 484.0L226.5 350.0M94.3 485.8L228.3 351.8M96.1 487.6L230.1 353.6M98.0 489.5L232.0 355.5M99.8 491.3L233.8 357.3M101.7 493.2L235.7 359.2M103.5 495.0L237.5 361.0M105.3 496.8L239.3 362.8M107.2 498.7L241.2 364.7" stroke="#5e635e" stroke-width="0.6" fill="none" clip-path="url(#tc3)"/>
<path d="M143.7 422.8L142.2 423.0L140.7 421.9L139.3 422.2L139.9 423.7L138.4 423.3L137.0 424.4L137.1 425.4L138.2 424.9M174.2 401.6L175.9 402.1L176.4 401.1L174.8 400.0L173.5 401.1L172.0 401.9L170.3 401.0L171.1 401.9L172.4 402.2M139.9 424.9L139.1 424.0L137.9 424.0L137.0 425.2L135.4 424.2L134.6 422.5L135.8 420.9L135.3 420.1L136.6 418.6L137.8 417.7L137.6 416.7M155.8 377.8L154.2 378.0L153.0 378.1L154.7 378.8L156.1 379.0M125.7 406.8L125.1 406.2L124.9 405.0L126.3 403.7L124.3 403.6L124.0 404.4L123.3 404.0L123.7 405.2L123.0 404.5M174.7 406.6L175.7 405.8L174.3 406.2L173.4 405.0L171.9 404.4L173.2 403.9M112.6 410.2L113.8 409.6L113.7 410.8L112.8 412.3L114.0 412.2L112.9 413.2M161.8 417.8L161.2 416.7L160.8 415.1L161.7 415.2L160.8 413.4L160.8 414.8L159.8 414.1M126.1 413.8L126.7 412.9L126.9 412.0L127.6 410.2L127.3 409.3L125.7 409.3L125.5 410.5M128.1 376.0L129.1 376.7L128.2 378.3L126.5 379.0L127.1 380.0M121.2 375.5L120.9 377.3L122.8 377.7L122.1 379.3L120.5 378.5L119.5 380.0L120.9 380.8L119.7 380.1M107.6 395.7L106.9 396.8L105.8 397.4L106.6 396.9L108.6 397.0L110.0 395.6L108.2 396.4L109.2 395.9M140.5 370.7L140.5 368.8L141.5 368.6L141.5 369.4L142.1 371.2L141.3 371.6L140.4 371.7M119.8 398.6L118.5 398.4L120.0 397.9L119.4 398.8L120.2 397.7M146.4 379.0L147.2 378.4L147.2 379.5L148.0 378.9L149.2 378.2L148.0 377.7L148.1 376.6L147.0 375.6L148.1 376.0M156.0 373.1L156.6 373.7L158.4 373.4L159.6 374.2L159.1 375.2M123.4 419.5L123.0 420.6L124.3 420.5L124.8 421.1L124.6 419.3L123.8 419.0L122.2 419.4L120.7 419.0L122.5 419.5M170.0 407.3L168.6 408.0L167.5 408.3L165.9 407.9L167.1 408.5L165.4 409.3L166.6 408.9M168.0 382.4L167.3 380.6L167.1 378.8L165.9 378.6L166.8 379.4L165.0 379.0L164.8 377.7L164.9 378.9M113.0 394.9L113.7 394.2L115.5 394.5L116.8 395.7L116.0 394.1L117.4 393.7L117.7 392.9L117.8 391.5L117.6 390.6L117.6 388.6M163.6 406.5L165.3 407.4L164.5 406.3L163.9 404.5L163.9 406.0L165.3 405.5L166.5 405.2L166.7 407.1L167.8 405.5L166.5 406.2L164.8 405.3M133.9 384.1L134.6 383.5L136.0 384.5L137.3 383.8L135.7 384.3L136.1 385.4L136.6 386.8M128.6 371.1L130.4 370.9L130.0 372.0L130.4 371.0L129.4 370.5M107.4 402.1L108.8 402.1L107.6 401.3L108.6 399.7L107.3 399.2L106.9 397.4L105.6 398.4L106.9 398.1M144.3 416.9L145.2 417.3L145.2 419.2L145.3 418.2L144.2 417.1L146.0 417.6L146.4 418.3L146.8 419.1L147.1 418.3L146.9 420.1M167.5 404.0L168.7 404.1L167.4 404.6L167.8 406.1L169.0 405.7L168.1 405.5L167.9 407.0M167.9 417.8L166.3 417.6L165.7 416.4L164.2 416.9L163.3 415.2M164.2 392.1L165.2 393.0L164.3 394.3L163.6 393.0L164.3 394.4L163.6 393.7L164.8 392.7L166.2 394.0L166.9 395.0M136.0 374.7L135.7 375.7L134.0 375.9L133.7 375.0L134.3 376.3L133.2 375.7L134.1 376.4L135.0 376.7L133.9 376.8M132.1 377.0L133.4 376.5L133.7 375.7L131.7 375.7L132.6 377.0L131.9 375.6L132.7 375.1M132.2 376.0L132.1 374.2L132.1 372.7L132.9 373.8L133.4 375.1L132.5 374.7L132.5 376.4L134.2 376.7L135.7 375.5L134.6 376.5M115.2 386.4L114.8 385.3L115.7 384.3L114.3 383.3L116.1 383.3L115.3 382.1L114.0 381.9L114.5 383.2L115.8 383.6M125.4 381.4L125.0 383.0L125.8 384.1L127.4 385.1L129.0 385.3L127.6 385.3L128.8 385.4L128.2 386.5L127.9 385.7M158.9 375.8L158.9 374.5L159.5 372.7M159.7 407.1L158.9 407.3L159.5 406.4L158.7 406.5L157.1 406.9L158.2 407.2L158.9 406.1M125.0 415.3L125.4 414.3L124.1 415.6L123.2 415.4L124.6 415.6M111.2 398.4L111.9 399.1L111.1 399.1L112.4 399.3L111.0 400.2L112.2 400.6M129.4 406.7L129.5 407.9L129.9 409.0L131.3 410.3L129.9 409.3L129.4 411.2M112.7 400.7L113.3 399.3L112.8 400.1L112.0 398.3L111.3 397.8M170.4 407.5L171.8 406.5L171.1 407.7L170.1 409.0L168.9 410.1L168.0 409.2M160.6 393.5L159.7 394.3L158.9 392.5L159.6 394.0L159.5 392.3L158.6 393.2L158.8 395.0M156.9 422.3L156.3 420.5L157.2 420.8L157.3 419.0L158.6 419.9L158.0 418.9L156.6 417.8L158.0 418.3L159.3 418.8L160.4 417.6M152.7 425.0L151.9 424.6L153.3 425.3L153.3 426.2L154.2 427.5L153.5 427.1M146.9 422.7L147.9 422.1L149.2 420.9L147.7 421.2L149.4 421.7L147.9 420.6L149.4 421.8L149.4 422.7L148.0 423.8L147.6 422.9L146.0 423.1M133.5 378.7L132.6 379.0L133.4 377.7L133.8 376.7L132.5 376.4L132.4 375.5L131.6 376.6L132.9 377.3L132.8 376.0L131.9 374.7M128.1 417.8L128.1 419.0L128.1 418.0L128.5 419.8L128.3 418.5M133.3 371.3L135.1 370.7L136.4 370.3L136.6 369.0L138.5 369.0L138.0 370.8L138.3 371.7M137.5 380.0L138.8 380.5L139.1 381.5L138.3 381.5L137.3 381.7L137.5 380.8L135.7 381.4L134.7 381.8L132.9 381.9M136.1 419.4L137.0 418.5L137.7 419.5L136.3 419.8L135.1 419.5L135.8 418.6L133.9 419.0L134.4 418.0L134.4 419.7L135.4 419.8L134.0 419.5M150.8 425.2L149.9 426.3L148.8 426.4L148.5 428.3L149.3 426.9L149.8 425.7L149.7 427.3L148.0 427.3L147.5 428.0L149.5 428.5M108.6 387.3L109.0 388.1L110.1 387.3L109.1 385.7L109.7 384.3M126.8 371.2L128.2 372.2L127.1 372.6L127.1 373.8L125.6 373.5L126.2 374.1L125.1 374.2L123.6 374.6L123.5 375.8M126.6 390.2L126.3 391.9L127.1 391.4L126.5 390.3L124.6 390.1L126.1 389.7M153.4 426.7L154.6 426.3L155.6 426.6L154.5 425.6L155.8 425.9L154.2 426.9L152.2 427.0M139.0 372.8L138.9 371.0L137.7 369.7L138.9 369.7L139.7 369.5M138.5 421.7L138.1 423.1L138.8 424.4L139.2 425.2L138.8 423.6L137.5 423.9L138.8 424.0M154.3 421.8L155.1 420.2L157.0 420.8L155.7 420.5L156.7 421.3L157.9 421.2L158.5 421.9L159.4 422.8L160.1 422.3L160.8 424.1M177.7 398.4L175.9 397.9L177.3 399.0L175.7 399.3L173.9 398.9L172.7 399.4L171.5 399.1M157.4 417.0L155.8 415.9L156.4 415.1L158.1 414.7L158.7 415.7L158.9 416.5L160.2 416.3L160.9 415.7L162.7 415.8L163.2 413.9L162.7 412.6M115.9 393.5L115.0 392.9L113.6 393.3L112.6 392.1L112.1 390.5L111.9 389.3M132.6 380.2L132.5 381.1L130.9 381.1L130.0 382.4L129.6 384.3L128.3 384.7L126.5 384.4M169.7 397.0L170.9 397.4L169.4 396.9L169.2 398.0L168.4 398.7L169.6 399.3L170.9 399.8L172.2 401.0L171.1 401.9M166.4 400.6L165.3 401.7L166.3 400.6L167.0 401.5L165.9 402.6L166.5 403.3L166.0 404.3L167.4 404.6M166.5 387.8L166.2 386.0L166.4 387.2L165.2 386.5L166.2 386.0L166.9 386.9L166.0 386.6L166.9 388.3L165.3 389.0L164.3 389.9L165.6 389.8M154.7 412.4L153.6 411.2L152.8 411.6L154.4 411.3L155.6 412.0L155.6 410.0L156.3 410.4L155.0 410.5L156.5 409.4M128.8 417.9L128.9 419.1L127.8 417.5L129.1 418.0L130.3 417.2L130.4 419.0L131.2 420.6L132.0 418.9L131.1 419.6M107.0 407.2L107.3 408.3L108.1 407.7L106.6 407.4L108.1 406.4M139.9 381.7L139.6 379.9L138.7 378.9L139.3 378.1L140.3 378.9M166.4 388.9L166.8 389.7L165.5 389.7L166.6 388.2L167.8 388.7L167.0 389.3L167.0 390.5M133.2 380.0L133.5 381.1L134.0 382.0L132.9 382.1L133.4 381.0M145.0 424.9L143.5 424.6L142.6 423.6L144.2 424.2L145.1 423.1L144.1 422.6L145.4 421.6L145.7 423.4L146.9 423.3M168.8 398.4L167.2 399.3L167.9 400.2L167.4 401.0L166.9 402.5L168.0 404.0L167.4 404.6L166.5 405.9L165.3 404.8L166.8 404.5M114.6 385.9L112.7 385.4L113.6 383.9L113.4 384.7L112.7 383.2L111.8 384.3L110.8 383.8M132.2 376.1L131.9 375.0L132.9 376.6L131.4 376.7L129.6 377.1L128.4 376.7L128.2 375.2L127.9 374.3M132.2 385.8L130.4 385.4L131.3 384.3L130.6 384.9L130.4 386.0L131.3 385.7L132.6 385.2L131.6 385.7L132.6 385.4M116.4 388.9L115.8 387.9L115.7 389.2L115.2 389.9L115.9 389.2L117.6 390.2M132.4 412.1L132.4 411.1L131.9 410.1L130.6 410.1L131.8 408.8L130.2 408.8L128.6 409.6L128.5 411.0L127.4 410.4L128.4 410.7L127.7 409.9M160.0 377.2L158.9 376.1L160.1 375.8L160.9 376.5L161.8 376.3M120.9 407.4L119.3 407.0L118.5 406.4L119.6 407.5L120.3 406.9M147.1 378.3L146.2 377.6L146.0 376.9L145.6 378.5L146.0 379.2L144.9 379.1L145.8 378.9L146.2 377.7L146.6 376.4L146.0 375.4M145.7 421.0L146.0 422.0L145.0 422.8L145.9 422.7L145.3 421.7L146.4 422.5L145.5 421.9M114.8 405.6L114.9 404.1L114.0 402.7L112.7 402.5L112.4 403.3L112.8 402.0L114.3 403.1L113.0 402.3L112.1 402.7L113.1 402.7M117.2 421.7L117.9 422.1L118.5 420.5L118.6 419.7L120.1 419.9M167.5 407.3L169.0 407.8L168.6 409.1L168.2 410.2L169.3 411.3M172.0 414.9L172.0 413.4L172.1 412.0L171.5 411.4L170.9 410.1L171.7 409.9L173.1 410.6L174.3 410.0L173.9 408.6M120.6 413.3L121.7 412.8L120.2 413.0L120.6 411.3L120.8 412.2L120.7 413.6L119.2 414.4L118.9 412.9L117.9 411.2M165.9 405.4L166.7 406.0L165.6 406.0L166.7 405.0L166.0 406.1L167.7 406.5L167.7 405.3M138.0 380.4L139.2 381.8L139.3 381.0L137.8 381.9L136.8 381.1L135.4 381.3M113.6 390.0L112.4 391.0L111.9 389.1L112.6 390.9L113.1 389.3L114.1 389.2L114.4 387.3L115.5 388.4M163.3 392.7L162.4 393.1L162.8 394.8L161.7 395.4L159.9 396.1L159.9 396.9L161.1 396.5L159.6 397.8M138.1 413.1L138.1 414.2L139.1 413.8L140.1 413.1L139.7 414.1L138.3 413.7L137.2 414.5L136.6 416.2M171.2 388.1L171.5 386.9L171.2 388.1L171.4 389.1L170.2 387.8M120.4 404.2L121.3 403.6L120.9 405.5L121.4 407.3L120.8 408.8L122.3 409.9L121.3 410.6L120.5 409.4L120.5 410.3M128.1 393.2L127.4 394.6L127.6 395.5L127.8 394.0L129.5 394.7L128.8 394.5L127.2 395.0L128.2 395.0L130.0 395.0L128.7 396.4L128.4 398.2M150.1 420.3L149.6 420.9L148.3 420.5L146.9 420.5L145.3 420.8L146.1 422.6L147.5 423.8L148.3 425.4L148.2 426.3L146.5 425.8M165.2 405.9L164.0 405.9L163.2 405.9L161.9 406.3L160.9 404.9L162.2 406.0L161.7 405.1L162.4 405.6L161.6 407.1L162.8 407.5L164.2 408.9M137.5 379.3L137.5 377.8L137.6 376.2L138.7 376.3L136.8 375.8L137.1 377.3L138.3 378.6L137.0 379.1M132.4 385.2L133.4 384.7L132.7 384.0L132.8 382.5L131.9 384.1L132.0 386.0L130.9 385.7L130.0 387.1L130.6 388.2L131.1 389.4M132.7 420.1L131.8 420.6L132.7 421.3L131.7 420.6L133.2 420.0L131.7 420.4L130.5 419.5L129.0 419.6L127.2 419.7M153.3 424.8L152.6 423.1L152.9 421.9L153.8 423.4L153.4 421.5L154.3 420.9L156.3 420.8L155.5 420.0L155.1 419.2L154.4 420.0L153.5 419.9M130.9 416.3L132.6 416.8L132.1 417.8L131.0 416.8L129.2 416.8L128.0 416.7L129.4 417.3L128.4 418.3L128.0 419.0M160.4 402.8L159.2 404.2L158.4 404.0L157.8 405.3L158.1 404.1M171.7 402.6L172.8 402.4L172.5 403.3L173.3 404.9L174.7 405.8M114.0 416.5L114.0 417.4L115.0 417.0L116.0 416.4L115.3 416.8L115.5 418.3L116.5 418.1L117.7 417.7L117.3 416.6L118.0 417.7M139.6 380.8L138.6 380.9L137.4 380.3L139.2 379.9L137.6 378.9L138.3 378.3M143.0 377.8L144.5 379.0L143.8 377.9L144.1 376.9L145.0 375.5L144.1 374.2L144.2 373.2L143.7 374.0L144.9 373.9L143.5 372.8M138.6 382.1L139.3 380.7L139.7 382.3L138.4 382.1L137.3 381.4L136.3 380.0L137.2 379.9L135.5 379.1L134.6 377.8L135.1 377.2M149.5 374.8L149.0 375.9L149.0 374.9L149.8 374.4L151.5 374.3L151.0 373.3L151.1 374.9M113.3 384.7L114.9 385.6L116.3 385.7L115.5 385.8L113.8 386.6L113.0 385.8L113.5 384.7L114.5 383.9M173.4 413.1L171.8 413.8L171.7 414.6L171.4 416.2M124.4 391.8L124.6 393.6L124.9 394.5L125.0 393.5L126.4 393.3L127.8 392.3L128.3 394.0L127.4 394.5L128.9 395.0M119.9 391.7L120.5 390.9L121.1 392.4L122.4 393.0L121.9 392.2L122.1 393.5L120.7 394.4L121.5 393.7L121.0 395.2L122.2 394.2L123.0 395.5M110.4 407.7L111.8 406.4L112.5 405.1L113.7 404.0L112.5 403.5L113.4 403.7M141.6 421.4L140.1 420.7L140.9 420.0L142.4 418.7L142.3 419.7L142.8 417.9L143.2 416.7L142.5 416.1L142.6 417.4L142.6 416.5L143.3 416.1M162.7 395.6L163.7 394.9L164.9 394.2L166.6 395.1L167.0 393.9L166.2 393.6L165.7 394.2L166.1 395.1L167.2 393.8L166.2 392.9L168.1 393.0M110.8 412.8L110.8 413.8L109.8 413.5L109.7 412.3L108.5 411.6M128.0 387.3L129.4 388.1L127.9 388.2L128.9 388.8L130.6 389.6L130.4 388.2L130.0 389.2M147.3 425.2L146.5 424.4L145.8 422.6L146.8 423.9L146.0 422.6L146.1 424.0L144.5 424.5L142.9 425.4L142.9 424.0L142.5 425.2M115.3 419.5L114.9 418.0L114.8 416.1L116.6 417.1L115.7 416.3M124.3 402.3L122.9 402.7L121.9 401.8L122.9 400.7L122.6 399.7L121.9 400.0M167.4 377.8L167.7 378.6L166.3 378.8L165.3 378.0L166.9 377.2L167.4 377.9M166.5 393.7L167.3 392.3L166.8 391.6L165.1 390.8L166.7 389.8L166.6 388.6M165.9 402.2L164.7 401.5L164.7 400.4L164.3 398.5L165.4 398.8L166.3 398.7L166.9 397.3L168.3 398.0L170.1 398.1L169.5 399.9L170.3 399.3M125.7 408.2L124.8 408.2L125.5 407.4L127.1 407.6L126.5 409.2L127.5 409.5L128.3 410.0L127.4 408.6L126.1 409.8L126.5 408.9L127.7 408.5M108.8 388.7L109.2 389.5L109.9 388.5L111.5 389.6L110.3 389.8L109.2 390.1L109.9 390.6L110.6 391.1L111.4 390.3L110.8 391.8L111.7 393.5M138.0 371.5L139.5 372.8L140.2 373.8L142.0 373.7L142.0 372.8L142.8 371.8L144.5 371.9L145.3 371.5L143.5 372.1M130.0 415.9L128.6 415.2L129.4 414.7L128.5 416.1L128.2 415.1L129.1 414.6L127.6 415.2L126.9 413.3L127.4 412.1L128.4 413.0L129.1 414.5M130.6 391.4L129.9 393.1L130.5 394.3L131.2 395.0L130.0 394.9L128.9 394.6M132.7 417.4L133.8 418.1L134.7 416.9L134.7 418.9L135.4 419.5L136.7 419.6L137.4 418.8L137.1 420.5L137.8 420.8L137.3 420.1M122.7 396.3L123.5 397.5L123.5 398.7L121.8 399.5L121.1 400.0L121.8 398.7L121.4 400.6L122.4 402.1L124.1 402.3M156.9 423.5L155.7 424.1L157.6 423.6L157.7 422.6L157.1 423.8M140.3 419.3L139.0 418.6L139.6 417.2L138.3 416.2L137.2 414.9L137.2 413.5M133.6 383.9L133.6 382.7L134.9 382.9L133.8 383.4L135.0 384.2L134.9 385.9L133.8 385.7M153.7 379.3L153.4 380.5L153.2 381.5L154.4 381.4L155.4 380.5L154.6 380.2L156.0 380.3M122.9 388.0L123.5 386.9L122.6 386.2L121.1 386.7L122.4 387.1L121.4 387.1L121.4 388.9L120.8 389.7L120.5 391.1M121.8 411.1L121.6 410.4L122.9 410.5L122.3 412.0L122.9 410.8L124.1 411.7L125.4 413.0M117.4 381.4L118.9 381.2L118.2 379.8L119.3 378.4L119.0 379.3L117.5 378.9L116.4 380.4L117.4 379.1L115.8 378.7M152.8 425.3L154.2 424.4L153.1 425.0L154.1 424.1L154.8 424.5L154.2 423.3L155.0 422.1L153.9 423.6L152.8 424.9L153.8 426.5M135.8 420.8L134.4 419.9L133.7 421.5L135.5 421.5L134.9 422.9L134.3 424.5L133.3 425.6L132.5 427.2M142.9 369.3L141.2 369.2L141.6 371.2L143.2 371.9L143.0 370.5L142.5 369.7M157.1 373.0L156.7 371.9L157.6 372.1L157.5 374.1L157.4 372.2L156.0 373.5L157.1 371.9M155.0 375.0L154.2 375.4L153.9 376.1L153.7 377.6L153.5 378.7L154.5 379.4L153.0 379.3L153.9 378.9L153.8 379.8L155.2 379.2M122.9 375.7L122.5 376.8L123.3 375.9L122.5 375.4L121.5 376.5M156.8 379.2L155.9 380.3L154.8 381.4L155.7 380.1L156.1 379.0L157.4 377.6L156.6 377.4L158.0 378.3L159.2 377.1M113.0 397.8L113.9 397.6L113.4 396.2L112.1 396.3L111.1 395.6M137.9 370.6L136.5 371.6L137.0 370.4L137.0 369.2L137.3 369.9L138.1 370.1L137.7 371.1L137.5 370.1M116.8 386.8L115.0 387.7L114.1 386.1L112.5 385.0L111.7 385.7L111.6 384.5L111.0 382.7M167.7 401.7L169.4 402.8L167.9 404.2L168.1 403.1L168.5 404.9M174.6 395.4L174.5 393.5L173.0 393.4L172.7 392.1L173.3 391.5L174.1 390.7L175.2 390.3L174.3 389.3L173.3 388.8M135.6 419.3L136.5 418.6L134.5 418.6L135.3 419.1L136.0 420.6L135.2 422.1M157.1 374.3L156.7 373.3L156.2 371.9L157.3 372.2L155.7 371.3L157.0 372.0L158.5 373.2L158.3 374.9M147.8 423.2L147.2 422.6L146.2 423.0L146.4 424.6L148.0 424.1L148.8 422.7L147.2 423.2L147.9 421.5L147.0 422.4L146.0 423.2M125.6 392.8L124.9 393.5L124.7 395.2L125.5 396.8L125.3 398.5L125.0 397.4L123.4 397.3L123.3 398.7L121.9 397.3M137.3 415.3L138.4 415.4L139.5 414.4L138.8 414.9L138.8 413.8L140.6 414.8L140.3 415.9L138.8 416.0L138.7 415.1M146.0 425.5L147.4 425.1L146.5 425.5L148.0 424.2L147.3 422.4L146.2 422.0M151.5 416.6L153.4 415.9L154.0 417.4L155.4 416.9L154.3 416.4L155.2 415.1L154.6 415.7M129.0 380.4L129.7 379.7L129.1 379.1L128.9 380.6L129.9 381.4L128.8 380.7L128.9 378.9L128.6 380.6L128.7 379.1L127.4 378.3L127.3 376.7M137.5 424.3L135.8 424.8L136.6 426.4L137.1 427.3L136.0 428.1L135.7 426.7L134.6 426.5L135.5 428.0L137.2 427.1M150.2 422.4L150.0 423.6L150.1 424.7L149.7 426.1L148.7 427.4L150.4 426.7L149.3 427.8L149.1 426.1M125.0 409.1L124.7 408.2L125.8 408.5L125.8 410.4L123.9 410.8L125.4 412.1L125.8 413.6L124.8 415.2L124.5 413.6L123.9 415.3L124.1 416.1M129.3 407.5L130.5 406.5L130.0 407.4L128.9 407.9L128.8 409.5L128.0 408.7L128.7 409.9L128.3 408.3L127.1 406.9L127.2 405.6L127.1 404.0M130.8 412.9L129.0 413.2L130.0 412.4L129.5 411.4L131.0 410.6L130.6 409.2L131.5 409.2L131.7 407.2M136.3 414.3L137.5 415.8L137.6 413.8L138.0 412.7L138.2 411.4L137.5 412.6L137.2 411.5L135.8 410.9L136.2 409.6L134.9 410.3L133.3 410.7M157.1 409.5L158.1 409.2L156.3 409.3L154.9 410.3L155.6 410.9L154.7 412.3L153.0 413.3M165.7 380.7L166.9 379.8L168.0 378.9L166.9 379.0L168.8 379.7M167.4 389.2L167.3 388.1L167.0 389.7L166.5 388.7L166.5 390.1L168.1 390.8L167.6 389.9L166.3 389.2L167.4 389.9L167.7 388.6M138.4 381.2L137.7 379.9L138.9 380.0L140.2 380.0L140.7 381.0L140.4 381.9L140.1 383.3L141.7 382.7L142.6 382.5M129.9 383.6L128.3 383.7L128.4 382.7L129.9 383.8L130.4 382.6M151.4 374.1L151.3 376.0L150.6 375.3L152.0 375.1L152.3 373.2L150.8 372.2L150.9 373.8L150.0 372.3L149.4 370.8L150.6 371.6M172.1 407.4L171.7 409.1L170.9 409.9L170.3 408.7L171.5 407.6L172.2 406.5L171.1 407.3L173.0 407.1L171.8 406.6L173.4 407.4M121.6 385.3L123.4 384.6L123.7 383.2L122.5 383.6L121.8 384.0L122.3 385.4M126.3 389.1L126.4 390.2L126.5 389.1L127.6 389.0L127.9 389.7L126.5 389.8L126.8 388.2L126.0 388.0L127.0 387.5M143.4 415.6L144.8 415.4L145.6 413.6L145.1 414.8L143.9 414.8L143.9 416.2L142.0 416.6L140.8 417.5L141.6 418.3M128.0 405.0L128.7 405.8L130.1 407.0L128.8 406.7L127.8 407.7M112.0 409.3L113.0 409.5L112.0 410.1L111.6 409.3L110.9 409.8L109.9 409.1L108.8 408.8L107.5 408.8M155.7 375.2L154.8 375.5L153.4 376.6L154.9 375.3L155.1 374.5L154.2 375.5M173.9 403.8L173.9 402.7L173.0 403.1L174.3 402.7L175.3 403.4L174.5 403.4L174.4 404.4L175.3 403.7L173.6 404.2L172.7 403.0L173.0 404.9M164.3 416.8L165.6 415.7L166.3 417.1L166.9 418.7L165.7 419.8L164.9 419.6L163.4 419.0M137.5 425.4L135.8 426.0L135.5 425.0L133.8 425.6L132.4 425.7L132.2 424.7L130.9 425.1L129.4 424.4M137.9 421.5L137.0 421.7L138.2 420.5L136.9 420.1L138.3 419.5L137.4 420.6L137.5 421.7L137.8 423.0M130.6 370.3L132.4 371.0L133.7 371.1L131.7 370.9L131.1 371.8L130.8 373.0L131.9 374.5L130.3 374.3M136.4 424.5L136.6 426.4L136.2 428.0L137.5 427.5L138.7 427.0L136.9 427.7L136.2 427.2L137.1 428.4L136.6 429.1L137.1 428.0M161.9 387.2L162.9 386.7L164.4 386.9L164.7 387.9L163.9 388.4L164.0 390.1L162.6 391.2L163.5 392.6M120.5 397.7L121.1 398.6L121.8 397.4L122.6 397.2L122.8 398.9L122.9 400.6L122.0 400.6L121.0 400.5L120.4 401.2L121.3 401.2M111.0 399.1L112.0 399.0L112.8 398.9L114.0 399.6L112.9 398.6L113.2 397.8L113.1 396.6L114.5 396.1L114.2 395.3L115.2 394.7L115.5 395.9M146.2 379.5L145.5 377.7L146.5 379.1L148.1 380.0L147.0 381.2L148.7 381.5L149.0 382.6L150.1 381.3L149.8 380.4M155.2 411.0L154.3 411.9L153.5 413.4L154.3 412.5L155.3 413.0M142.4 378.5L143.5 379.9L145.0 379.5L146.2 380.5L145.8 379.7L145.8 380.9L147.4 379.8L148.7 378.6L149.2 377.8L150.0 378.0L149.4 377.0M112.1 385.7L111.4 387.4L110.3 388.1L108.9 387.8L109.2 386.3L109.9 387.5L111.4 388.5L112.0 389.7L111.0 389.0L112.3 387.9L111.7 389.1M139.4 375.8L140.4 377.0L142.3 376.6L143.7 376.7L145.3 376.7L144.2 377.3L145.0 378.9L144.1 378.9L143.7 377.0L144.3 375.0M166.1 405.3L167.0 405.3L167.7 406.9L166.9 408.0L165.1 407.5M161.3 403.3L160.9 404.9L160.7 405.8L160.7 406.8L161.7 407.0L162.4 406.1L161.4 406.8L162.1 405.2L163.0 404.8L162.9 405.6M114.1 415.9L113.7 414.6L114.9 414.1L113.0 413.5L113.4 412.2L113.8 410.5L113.5 411.7L113.6 410.5M124.7 418.2L123.1 418.3L122.8 420.1L123.2 418.4L123.6 417.0M128.6 377.8L128.3 378.7L129.8 377.8L128.9 377.7L130.6 377.8L130.0 376.6M130.2 415.4L128.9 416.2L129.6 415.1L128.9 415.6L129.8 414.7L128.5 414.5L126.7 414.3M120.9 395.4L121.5 396.1L122.0 394.9L123.1 394.9L121.8 394.7L122.9 396.2L122.5 395.1L122.0 396.1M171.1 402.4L171.9 403.1L173.0 401.6L173.2 400.5L173.6 401.6L174.6 401.4L173.4 400.8L174.4 399.0L174.8 397.8L173.2 398.0M154.0 412.8L154.3 411.6L154.8 412.3L154.0 411.5L154.4 412.3L154.6 411.1M163.5 376.5L163.8 378.2L165.5 379.0L164.7 378.1L163.1 379.0L163.9 379.9M160.0 387.2L159.6 385.7L160.4 384.3L161.8 382.9L162.8 381.8L161.6 382.6L161.8 383.7M115.3 396.3L115.3 395.3L114.6 394.8L115.5 393.6L114.8 394.5L115.0 395.6L115.8 395.9L116.8 395.6M130.0 410.2L130.1 409.2L131.3 409.7L130.0 409.9L130.1 411.2L129.9 412.1L128.8 412.1L129.5 413.9L130.4 413.1M124.2 396.3L123.3 395.7L123.6 397.3L124.1 396.6L125.3 397.8M134.2 414.0L135.5 412.9L136.8 413.7L135.7 413.3L136.1 414.6L135.0 415.2L136.0 414.9L136.6 414.1L136.1 412.9L135.1 413.7L135.8 414.5M124.1 408.0L125.6 408.4L124.8 409.8L125.0 411.5L124.9 412.9L125.7 411.3L126.8 410.3L125.4 410.6L126.6 410.2L127.1 409.4L127.7 408.7M113.8 388.6L112.2 389.0L111.4 389.4L111.4 388.5L112.3 388.1L111.8 388.8L112.1 390.3L112.9 390.8M120.3 397.3L121.8 396.4L122.6 396.3L123.4 395.5L121.7 394.9L122.1 396.2L120.6 396.3L119.7 395.5L120.8 395.5L121.3 394.1L122.3 394.6M147.0 425.6L148.5 424.4L150.0 424.6L150.7 425.1L149.2 425.7L149.7 426.8L148.2 426.9L148.9 427.6L150.1 427.7M161.7 397.7L160.8 398.2L162.5 397.3L160.8 397.6L161.7 398.9L163.5 398.5L163.9 399.1L162.7 399.6L163.1 397.7L164.4 396.9M122.3 390.1L121.3 390.5L120.1 388.9L121.3 387.6L121.9 388.6L121.6 390.0L122.9 389.1L121.8 388.5L122.3 389.5L124.1 389.3L123.2 387.9M152.0 428.0L151.9 426.1L153.2 425.5L152.5 426.2M129.8 376.6L129.0 375.8L128.7 375.0L128.5 376.8L128.1 378.3L128.3 379.2L127.1 379.9M169.1 404.2L170.0 404.3L169.5 405.9L168.8 407.8L169.7 407.0L168.3 406.6L167.2 405.7M162.8 420.1L162.7 418.4L161.6 419.8L160.6 419.0L161.1 419.7L161.2 420.9L160.5 422.3L161.9 421.9L161.5 421.2L161.0 419.8M145.7 378.9L145.0 379.5L146.1 379.5L146.8 380.0L146.8 381.6L148.6 381.7L148.3 379.9L147.5 381.2M163.6 421.1L162.7 420.2L162.7 421.6L164.0 420.7L165.0 421.0L166.1 419.4L165.1 419.9L166.1 420.3L165.4 421.4M124.5 421.6L122.9 422.0L122.1 422.8L121.5 424.3L122.8 423.0L121.5 423.8L123.1 424.8L121.8 424.6L122.9 423.2L123.6 422.1L124.0 423.3M160.2 374.4L161.3 374.3L160.0 373.2L158.2 373.3L159.1 374.7L158.1 374.5L158.4 376.4L157.4 375.4L155.6 375.4L154.9 374.6M173.1 388.2L173.2 387.4L172.3 387.1L171.6 387.5L169.9 388.0L170.2 386.1L168.3 385.9L168.1 385.0L166.8 384.6L166.3 385.6M166.5 416.8L165.9 418.2L164.9 419.2L165.7 420.0L167.0 420.2M140.8 416.1L141.6 415.7L142.3 416.6L143.4 417.5L142.4 418.8L142.3 419.8L141.2 420.3L142.9 419.6L144.6 419.0L145.4 418.1M155.8 418.0L156.0 419.1L154.2 418.6L153.3 418.5L152.1 418.4L150.9 418.0L149.9 417.7L149.4 416.8M161.0 381.3L161.9 381.3L163.4 380.9L165.1 381.2L165.2 380.4L166.2 380.3M109.8 397.8L109.2 396.7L111.1 396.2L112.7 397.3L111.6 395.7L112.8 395.2L112.0 396.2L113.1 397.0M125.5 402.6L126.7 401.8L127.4 400.1L127.7 399.0L128.5 398.5L127.6 398.5L126.2 399.7L127.0 397.9M115.4 390.3L115.0 391.2L114.1 389.7L115.1 391.4L113.4 391.0L112.8 392.0M120.7 383.0L120.4 381.7L120.2 380.7L119.7 381.7L119.8 382.6L120.1 384.0M122.7 386.4L122.1 387.1L122.1 388.1L123.0 387.1L122.8 388.4L123.5 387.9L124.4 388.8L126.3 388.3L126.4 387.4M163.0 378.1L164.5 379.1L164.4 380.9L163.7 382.3L161.8 382.2L160.4 382.4M119.5 398.8L119.0 399.6L119.4 401.2L120.7 400.4L121.7 400.1L123.0 398.9L123.2 399.8L122.0 400.4L120.4 400.5M144.5 417.3L142.8 417.1L141.3 416.4L141.7 414.7L141.4 415.8L141.6 416.8M141.6 426.6L142.6 425.2L143.0 424.0L142.1 423.1L142.0 424.9L143.8 424.4L143.5 422.6L145.1 421.6L144.2 420.3M119.7 420.5L119.9 419.4L120.3 418.6L120.7 419.4L119.7 419.5L121.3 419.9L122.1 421.1M131.8 380.5L131.0 382.1L131.5 383.8L132.7 384.4L131.3 385.2L132.2 385.2L130.7 386.3L128.8 386.2L126.9 385.9M171.9 412.5L173.3 411.6L172.5 411.5L170.8 411.0L171.1 409.1M162.6 385.4L163.5 386.2L165.3 385.7L163.8 384.3L164.7 384.0L165.8 384.4L163.9 384.0L165.5 384.2M145.2 370.4L146.6 371.6L147.7 372.0L147.4 370.8L146.9 372.1L146.4 370.5L145.9 371.8L147.0 371.3L146.6 370.0L145.7 369.5M166.2 416.3L167.3 415.8L166.6 414.5L168.1 415.7L168.6 414.5L167.0 414.4M128.3 403.5L128.9 404.1L129.3 403.0L128.6 401.4L129.9 400.8L130.9 399.3L131.1 398.0L132.2 397.4M162.0 386.8L162.1 385.1L163.5 386.4L164.2 387.1L163.2 386.8M120.4 410.4L121.4 412.0L122.8 412.5L124.0 411.3L124.5 412.1L124.2 410.8L125.0 411.4L124.5 410.6L124.1 412.5M141.1 427.5L142.1 427.4L141.1 428.4L139.7 428.0L139.6 428.9M168.5 391.6L167.6 392.5L169.1 391.3L168.1 390.5L169.4 389.2L169.7 390.5L171.5 389.9L172.7 389.2L173.7 390.7L174.1 392.2M115.4 417.3L113.6 416.8L113.2 416.1L112.2 416.0L112.7 414.5L114.4 414.1L115.3 413.4M129.9 415.5L130.5 413.8L131.7 414.7L132.3 416.6L133.2 417.9L133.0 416.9L132.2 416.4M163.1 405.2L164.1 406.2L162.6 405.8L161.9 404.2L160.2 404.8L159.0 405.4L160.5 404.7L158.7 405.4M171.0 393.3L171.6 391.8L172.8 391.8L172.4 392.8L171.5 392.8L171.9 391.6L173.3 392.0L172.3 392.4L171.8 393.9L173.3 393.9M131.7 415.2L131.1 416.2L130.3 416.7L129.2 416.3L130.2 415.1L129.2 415.5L129.0 414.3L129.7 415.0M111.0 394.7L111.6 392.9L111.7 393.9L112.8 394.0L113.2 394.9L113.8 395.9L114.8 397.6L115.5 398.0L116.6 397.4L116.6 396.2M120.5 405.4L121.5 404.3L122.6 405.7L124.4 406.0L126.4 406.1L127.4 407.7L127.4 406.7L128.1 407.2L127.3 406.6L126.7 405.3M129.7 426.9L128.7 427.1L129.5 426.2L130.7 426.1L131.6 425.9L132.0 424.5M142.5 420.3L143.1 421.6L143.9 422.2L144.4 422.9L145.8 422.3L146.8 421.4L147.8 421.6L146.3 420.8L146.5 419.1L147.4 420.3M139.2 373.3L138.8 371.7L138.2 372.9L138.4 371.3L137.6 369.6L137.7 371.6L136.8 370.7L136.3 369.7L134.8 370.6L135.4 369.2M128.5 408.0L129.8 408.5L130.9 409.4L131.1 408.6L129.8 408.6L128.9 407.0L128.5 406.2L127.7 407.3L128.6 408.8L127.8 409.8M148.0 422.1L146.1 422.4L147.6 422.3L148.8 421.8L149.1 422.8M112.9 416.1L112.2 414.3L113.3 413.1L112.8 414.1L113.3 413.5L111.9 414.6L111.5 416.0M124.0 419.8L122.8 419.3L122.9 421.0L123.5 421.6L122.3 421.5L121.2 421.4L121.0 419.5L122.4 420.1L123.3 421.6L122.4 421.5L121.2 421.8M130.3 377.2L128.9 377.6L129.7 377.9L128.4 378.1L129.8 377.5L130.9 376.5M163.0 390.7L163.9 391.4L164.3 390.4L165.0 391.0L166.0 391.1L164.7 390.6L164.8 391.7L164.5 390.1L165.7 391.5L165.7 390.5L166.8 391.7M160.7 402.0L161.6 402.1L161.6 400.8L162.7 400.6L162.5 401.6L163.8 401.0M128.7 392.9L128.3 391.4L126.7 392.3L127.5 391.0L128.4 390.6L127.5 391.8L125.5 392.3L124.6 392.7L124.7 393.7L124.1 394.7L122.9 394.7M152.1 376.8L151.0 377.0L150.7 375.9L150.7 376.9L151.7 377.3L151.1 376.2L150.0 376.4L150.0 378.1M128.3 371.1L127.9 373.1L127.3 371.5L127.0 373.5L128.6 373.2L129.4 374.6L130.2 374.5L131.2 373.5M135.0 373.4L136.1 371.8L135.8 373.0L135.3 374.3L133.6 373.7L132.9 375.0M137.1 420.9L136.9 419.9L137.9 419.7L139.7 419.4L141.3 419.4M137.2 411.6L136.9 410.5L137.0 411.4L135.8 411.0L136.1 410.0L135.4 409.4M121.9 377.8L121.1 379.4L121.7 380.0L123.3 379.0L121.5 379.9L120.6 380.0L120.8 379.2L119.6 379.2M131.1 370.1L130.8 371.2L130.8 370.4L130.9 371.2L129.9 370.7L129.2 371.9L130.1 371.2L128.7 370.5M142.2 370.5L142.8 371.1L143.8 371.5L144.6 370.8L146.6 371.0L146.8 371.8L147.8 371.5L147.0 370.4L148.4 369.6L147.0 370.0M158.0 378.0L156.3 378.6L157.3 379.2L158.7 380.4L159.1 379.1L160.6 380.1M148.0 370.8L146.7 370.9L147.2 369.0L146.3 370.3L145.3 370.3L146.0 370.7M137.6 375.8L138.2 375.0L137.0 373.7L136.2 373.9L135.3 373.6L135.8 374.6L136.5 375.9L136.5 374.6L137.4 374.3M130.1 416.4L128.5 416.3L129.2 415.4L128.4 416.8L129.7 416.6L131.0 416.2L129.7 415.6L131.4 415.5L131.1 416.9M141.8 422.0L140.9 422.8L140.2 423.8L140.6 424.8L139.2 425.1L140.1 425.4L141.5 425.6M120.6 376.0L120.8 377.6L121.4 379.1L122.5 380.5L121.1 380.9L121.9 382.1L121.1 382.7L122.4 383.4M131.0 411.3L130.7 410.2L132.2 410.9L133.7 410.2L132.9 408.4L132.6 407.5M116.5 402.8L117.1 402.3L117.9 401.1L117.6 399.8L116.4 399.0L117.7 398.6L117.5 397.8L117.9 398.7L116.7 398.8M140.6 426.7L141.4 425.5L140.2 426.2L139.1 425.5L138.7 424.3L138.5 425.2L137.6 425.5L137.9 426.4L136.7 427.9L135.6 427.8L134.3 428.1M173.1 408.0L172.4 407.2L173.3 407.1L173.8 407.9L174.3 408.7M122.5 400.2L123.3 400.5L122.9 402.2L121.3 402.1L122.7 402.1L121.8 403.9L122.0 405.0M128.9 374.6L128.5 373.4L129.1 372.1L129.2 373.1L129.7 374.8L130.4 374.0L129.6 373.5L131.1 374.2M116.9 391.4L118.3 390.6L119.8 390.1L119.3 390.9L120.0 392.1L120.2 393.7L121.2 394.8L122.9 394.4M124.4 376.9L123.5 378.2L123.6 379.2L124.8 380.1L126.0 380.8L125.1 380.5L124.8 379.4L126.4 379.9M132.1 428.1L131.1 427.7L133.0 427.3L131.2 427.6L129.8 426.3L128.8 426.0L129.9 425.9L131.2 427.1L130.2 425.6L130.5 427.4L131.3 426.1M174.0 401.7L172.5 402.2L171.8 400.4L170.7 401.2L171.9 402.0L172.4 401.1M110.7 401.7L109.3 401.1L110.0 399.6L110.8 399.6L109.6 401.1L110.7 400.5L109.8 400.3L108.6 400.6L108.5 401.5L109.7 401.9L108.9 402.0M173.7 396.1L173.2 396.9L173.2 398.3L172.2 397.9L173.2 397.9L174.1 398.6L175.9 398.6L176.4 399.3L175.5 398.5M161.3 414.4L161.1 413.5L159.7 412.3L160.7 413.2L161.0 415.1M171.2 381.5L169.8 382.4L169.3 384.1L170.3 383.7L172.0 384.8L170.4 384.0L171.4 382.6M159.0 410.1L158.4 409.1L157.4 408.9L157.9 409.7L159.0 409.6L160.3 411.0L161.3 410.0L161.7 408.7L160.5 408.4L162.2 409.1L160.8 410.1M130.0 385.2L131.0 386.3L130.0 386.3L131.1 386.0L129.9 384.8L129.8 383.3L128.6 383.7L128.5 382.8L126.8 382.1M115.4 405.7L116.5 406.8L116.5 406.0L116.0 407.4L115.7 408.4L114.8 407.2L115.4 408.8L116.2 410.4L115.9 408.7L116.8 407.8M144.4 373.0L146.4 373.4L147.4 373.9L148.9 374.7L150.0 374.4L148.2 373.6L148.4 372.5L146.5 372.9M160.5 382.6L159.4 384.2L160.5 383.0L159.7 381.7L158.6 381.1M127.5 421.9L128.8 421.4L128.5 420.6L127.1 420.3L125.7 420.5L127.1 421.1L126.2 422.4L126.1 424.3L124.4 424.7M118.9 396.4L119.1 395.2L119.1 394.3L118.9 396.0L120.0 396.1L121.1 395.4L120.8 394.6L121.7 396.2M155.2 422.3L156.5 422.5L157.3 423.4L158.4 423.3L157.1 424.5L157.4 425.6L156.1 426.3M147.5 416.8L148.3 417.8L148.6 418.6L150.6 418.8L151.4 418.4L152.6 419.4L153.1 418.4M167.5 384.2L166.9 385.0L165.0 384.8L164.5 384.2L165.1 383.6L165.6 384.9L167.4 385.1L166.6 383.3L165.8 382.3L165.9 383.5L164.7 382.2M152.4 420.7L152.6 419.9L150.9 419.3L150.6 420.7L150.7 419.7L149.8 419.7M150.3 369.8L149.8 371.5L149.0 371.2L148.0 370.6L149.6 371.3L148.9 369.5L149.8 370.4M119.8 389.8L120.7 389.5L120.8 391.3L120.1 392.4L119.8 390.5L118.4 391.3M121.6 414.5L122.8 413.9L123.8 412.4L122.7 413.7L121.2 413.9L122.1 415.3L121.5 416.4L119.8 416.2L121.6 415.9M130.0 382.3L129.6 380.4L128.4 380.7L127.9 382.5L126.7 384.0L125.9 385.2L127.2 385.5L128.3 385.9L128.1 387.3M168.1 419.0L169.1 418.8L168.8 417.3L169.1 415.5L167.5 414.9L167.3 415.9L166.5 415.9M113.6 384.8L114.5 384.2L115.4 383.4L113.8 383.9L112.5 384.4L113.3 384.0L112.2 384.4L110.7 384.4M133.0 381.1L133.2 379.6L133.5 378.7L132.5 377.8L131.7 379.3L130.4 380.6L131.3 381.3L130.4 381.4L131.6 382.5L131.5 383.5M131.4 371.7L130.6 371.9L129.8 371.7L127.9 372.0L126.5 373.3L127.3 373.8L128.5 374.7L127.0 375.7L126.5 377.2M160.2 384.8L158.7 384.3L157.4 385.0L156.1 386.3L155.0 386.2L156.9 386.6L156.9 385.2L156.7 386.3L155.8 387.7M122.6 382.1L122.0 380.6L122.8 380.9L122.8 379.3L124.4 380.0L124.6 378.7L123.9 380.2L125.0 379.6M168.0 418.2L169.5 418.4L168.7 416.9L167.3 417.2L167.4 415.3M143.4 427.5L143.9 426.2L145.5 426.8L147.2 426.8L146.1 427.4L147.7 427.5L148.7 426.6L149.4 425.9L148.8 427.0M127.4 397.9L125.9 399.0L126.7 398.2L127.4 397.6L128.2 397.6L126.8 398.8L127.2 397.8L127.9 398.5L127.5 399.6L126.3 399.6M147.2 378.1L146.5 377.7L145.9 377.0L146.7 377.9L147.1 376.8L146.1 376.4L145.8 375.2L145.9 373.7L144.5 373.3L146.0 373.4L146.9 372.8M159.6 385.8L159.9 385.0L158.7 385.6L157.8 386.5L157.4 385.8L156.7 385.3L156.7 383.4L155.8 381.9L157.7 381.7L157.3 383.2L155.9 383.3M128.3 404.7L127.0 403.3L125.9 403.4L125.9 402.6L126.6 400.8L127.4 401.6L128.6 401.4M131.9 386.5L130.7 387.0L130.0 388.9L130.2 390.1L130.7 389.0L132.1 389.5L131.2 390.9L130.6 392.0L129.0 391.9L129.6 392.5M143.4 380.7L142.8 379.8L143.7 378.3L143.4 379.2L144.3 380.1L144.6 378.8L145.9 379.7L145.4 378.0L145.6 379.4L145.7 378.0L146.0 378.8M164.0 400.4L165.2 399.4L164.2 399.8L165.4 398.7L166.5 398.0L167.4 397.7L166.9 399.6L167.0 398.6L166.4 399.5L165.3 398.3L164.3 397.5M163.6 406.8L163.4 408.7L164.2 408.8L163.4 409.1L164.7 408.4L164.8 410.3L165.4 409.4L166.5 409.5L165.8 408.5L165.1 408.9M173.8 386.8L175.0 388.1L175.4 389.7L174.5 389.4L172.7 389.4L171.7 389.9L173.5 389.4L171.9 389.0L172.8 390.5M119.2 376.1L118.3 377.8L117.0 377.0L116.6 377.8L117.2 379.6L116.2 379.9L115.3 379.4M166.9 412.4L168.0 413.8L168.6 415.0L167.5 414.8L165.7 414.0L165.0 415.4L165.9 415.0L167.4 413.7L166.8 413.1M139.1 416.8L140.2 415.2L139.1 416.0L139.2 417.2L138.3 418.2L137.3 418.7L138.1 419.3L137.5 418.6L135.8 418.2M174.2 409.9L173.4 409.1L172.6 409.6L173.1 407.8L172.4 406.6L171.8 407.9L172.0 406.5L171.3 406.1M147.1 422.5L147.3 421.6L146.3 422.4L146.2 421.4L145.3 423.0L145.6 422.0L144.4 421.1M132.8 421.1L133.9 420.4L133.0 420.2L132.0 419.1L132.8 418.7L132.9 420.4L133.3 418.8L133.4 420.7L131.7 420.1L132.5 418.7M110.8 397.7L109.8 397.1L110.0 398.6L111.7 399.6L112.6 400.3M160.1 383.7L158.1 383.3L158.5 381.4L158.2 380.1L157.5 381.1" stroke="#45b45c" stroke-width="0.45" fill="none" stroke-linejoin="round"/>
<polygon points="682,-2 672.6,-2.0 674.8,0.3 672.6,2.3 674.8,4.6 672.6,6.6 674.8,8.9 672.6,10.9 674.8,13.2 672.6,15.2 674.8,17.5 672.6,19.5 674.8,21.8 672.6,23.8 674.8,26.1 672.6,28.1 674.8,30.4 672.6,32.4 674.8,34.7 672.6,36.7 674.8,39.0 672.6,41.0 674.8,43.3 672.6,45.3 674.8,47.6 672.6,49.6 674.8,51.9 672.6,53.9 674.8,56.2 672.6,58.2 674.8,60.5 672.6,62.5 674.8,64.8 672.6,66.8 674.8,69.1 672.6,71.1 674.8,73.4 672.6,75.4 674.8,77.7 672.6,79.7 674.8,82.0 672.6,84.0 674.8,86.3 672.6,88.3 674.8,90.6 672.6,92.6 674.8,94.9 672.6,96.9 674.8,99.2 672.6,101.2 674.8,103.5 672.6,105.5 674.8,107.8 673,106.5 682,106.5" fill="#c2f3cb"/>
<clipPath id="hc"><rect x="670" y="-2" width="12" height="108.5"/></clipPath>
<path d="M674.8 -4.0L672.6 -2.0L674.8 0.3M672.9 -2.0L682 -9.4M674.8 0.3L672.6 2.3L674.8 4.6M672.9 2.3L682 -5.1M674.8 4.6L672.6 6.6L674.8 8.9M672.9 6.6L682 -0.8M674.8 8.9L672.6 10.9L674.8 13.2M672.9 10.9L682 3.5M674.8 13.2L672.6 15.2L674.8 17.5M672.9 15.2L682 7.8M674.8 17.5L672.6 19.5L674.8 21.8M672.9 19.5L682 12.1M674.8 21.8L672.6 23.8L674.8 26.1M672.9 23.8L682 16.4M674.8 26.1L672.6 28.1L674.8 30.4M672.9 28.1L682 20.7M674.8 30.4L672.6 32.4L674.8 34.7M672.9 32.4L682 25.0M674.8 34.7L672.6 36.7L674.8 39.0M672.9 36.7L682 29.3M674.8 39.0L672.6 41.0L674.8 43.3M672.9 41.0L682 33.6M674.8 43.3L672.6 45.3L674.8 47.6M672.9 45.3L682 37.9M674.8 47.6L672.6 49.6L674.8 51.9M672.9 49.6L682 42.2M674.8 51.9L672.6 53.9L674.8 56.2M672.9 53.9L682 46.5M674.8 56.2L672.6 58.2L674.8 60.5M672.9 58.2L682 50.8M674.8 60.5L672.6 62.5L674.8 64.8M672.9 62.5L682 55.1M674.8 64.8L672.6 66.8L674.8 69.1M672.9 66.8L682 59.4M674.8 69.1L672.6 71.1L674.8 73.4M672.9 71.1L682 63.7M674.8 73.4L672.6 75.4L674.8 77.7M672.9 75.4L682 68.0M674.8 77.7L672.6 79.7L674.8 82.0M672.9 79.7L682 72.3M674.8 82.0L672.6 84.0L674.8 86.3M672.9 84.0L682 76.6M674.8 86.3L672.6 88.3L674.8 90.6M672.9 88.3L682 80.9M674.8 90.6L672.6 92.6L674.8 94.9M672.9 92.6L682 85.2M674.8 94.9L672.6 96.9L674.8 99.2M672.9 96.9L682 89.5M674.8 99.2L672.6 101.2L674.8 103.5M672.9 101.2L682 93.8M674.8 103.5L672.6 105.5L674.8 107.8M672.9 105.5L682 98.1M674.8 107.8L672.6 109.8L674.8 112.1M672.9 109.8L682 102.4" stroke="#3b7f50" stroke-width="1.1" fill="none" clip-path="url(#hc)"/>
<line x1="673" y1="106.5" x2="681" y2="106.5" stroke="#3b7f50" stroke-width="1.08" />
<line x1="157.5" y1="543.4" x2="224" y2="543.4" stroke="#555" stroke-width="1.08" />
<line x1="223" y1="543.4" x2="681" y2="543.4" stroke="#1c1c1c" stroke-width="1.32" />
<path d="M261.2 350.3L245 491L163.4 494.2M266 350.3L253.5 496.7L163.4 500.6M261.2 350.3L266 350.3" stroke="#1c1c1c" stroke-width="1.2" fill="none"/>
<line x1="269" y1="352" x2="352" y2="352" stroke="#1c1c1c" stroke-width="0.96" />
<line x1="269" y1="353.8" x2="352" y2="353.8" stroke="#1c1c1c" stroke-width="0.96" />
<rect x="266" y="351.7" width="3" height="3.2" fill="#fff" stroke="#1c1c1c" stroke-width="0.8"/>
<rect x="352" y="351.7" width="3.3" height="3.2" fill="#fff" stroke="#1c1c1c" stroke-width="0.8"/>
<line x1="311" y1="340.3" x2="311" y2="367" stroke="#1c1c1c" stroke-width="1.2" />
<polygon points="355.5,194.5 421.5,194.5 421.5,216.6 376.3,216.6 376.3,234.3 355.5,234.3" fill="url(#h)" stroke="#1c1c1c" stroke-width="1.25"/>
<polygon points="355.5,269.8 376.3,269.8 376.3,297 376.3,300.5 367.3,300.5 367.3,305 355.5,305" fill="url(#h)" stroke="#1c1c1c" stroke-width="1.25"/>
<polygon points="355.5,336.3 367.3,336.3 367.3,340.8 373.8,340.8 373.8,473.3 382.5,473.3 382.5,481.3 401.3,481.3 401.3,492 355.5,492" fill="url(#h)" stroke="#1c1c1c" stroke-width="1.25"/>
<polygon points="468.3,194.5 545,194.5 545,216.6 521.8,216.6 521.8,237.5 505.6,237.5 505.6,216.6 468.3,216.6" fill="url(#h)" stroke="#1c1c1c" stroke-width="1.25"/>
<polygon points="592.5,194.5 684,194.5 684,240.5 677.6,240.5 677.6,272.5 684,272.5 684,491.6 660,491.6 660,473.3 673.6,473.3 673.6,216.6 592.5,216.6" fill="url(#h)" stroke="#1c1c1c" stroke-width="1.25"/>
<rect x="673.6" y="110" width="10.4" height="16.8" fill="url(#h)" stroke="#1c1c1c" stroke-width="1.25"/>
<polygon points="505.6,264 521.8,264 521.8,473.3 546.7,473.3 546.7,491.6 485,491.6 485,481.5 505.6,481.5" fill="url(#h)" stroke="#1c1c1c" stroke-width="1.25"/>
<polygon points="583.5,421.4 587.6,421.4 587.6,473.3 622.6,473.3 622.6,491.6 583.5,491.6" fill="url(#h)" stroke="#1c1c1c" stroke-width="1.25"/>
<rect x="376.3" y="297" width="94.4" height="3.5" fill="url(#h)" stroke="#1c1c1c" stroke-width="1"/>
<rect x="521.8" y="380.3" width="99.9" height="3.3" fill="url(#h)" stroke="#1c1c1c" stroke-width="1"/>
<rect x="648.5" y="380.3" width="25.1" height="3.3" fill="url(#h)" stroke="#1c1c1c" stroke-width="1"/>
<rect x="583.6" y="417.7" width="38.1" height="3.6" fill="url(#h)" stroke="#1c1c1c" stroke-width="1"/>
<rect x="648.5" y="417.7" width="25.1" height="3.6" fill="url(#h)" stroke="#1c1c1c" stroke-width="1"/>
<line x1="634" y1="192.6" x2="634" y2="216.6" stroke="#1c1c1c" stroke-width="1.2" />
<line x1="421.5" y1="194.8" x2="468.3" y2="194.8" stroke="#1c1c1c" stroke-width="0.96" />
<line x1="421.5" y1="203.4" x2="468.3" y2="203.4" stroke="#1c1c1c" stroke-width="0.96" />
<line x1="421.5" y1="205.9" x2="468.3" y2="205.9" stroke="#1c1c1c" stroke-width="0.96" />
<line x1="545" y1="194.8" x2="592.5" y2="194.8" stroke="#1c1c1c" stroke-width="0.96" />
<line x1="545" y1="203.4" x2="592.5" y2="203.4" stroke="#1c1c1c" stroke-width="0.96" />
<line x1="545" y1="205.9" x2="592.5" y2="205.9" stroke="#1c1c1c" stroke-width="0.96" />
<line x1="673.6" y1="126.8" x2="673.6" y2="194.5" stroke="#1c1c1c" stroke-width="1.2" />
<line x1="677.8" y1="126.8" x2="677.8" y2="194.5" stroke="#1c1c1c" stroke-width="0.96" />
<line x1="673.6" y1="135" x2="681" y2="135" stroke="#1c1c1c" stroke-width="0.96" />
<line x1="673.6" y1="156.7" x2="681" y2="156.7" stroke="#1c1c1c" stroke-width="0.96" />
<line x1="673.6" y1="178" x2="681" y2="178" stroke="#1c1c1c" stroke-width="0.96" />
<rect x="677.6" y="240.5" width="6" height="32" fill="#fff" stroke="#1c1c1c" stroke-width="0.8"/>
<rect x="355.5" y="305" width="11.8" height="31.3" fill="#fff" stroke="#1c1c1c" stroke-width="0.8"/>
<line x1="363.7" y1="305" x2="363.7" y2="336.3" stroke="#1c1c1c" stroke-width="0.96" />
<rect x="367.3" y="300.5" width="6.5" height="40.3" fill="#fff" stroke="#1c1c1c" stroke-width="0.8"/>
<line x1="546.7" y1="473.3" x2="583.5" y2="473.3" stroke="#1c1c1c" stroke-width="0.96" />
<line x1="546.7" y1="482" x2="583.5" y2="482" stroke="#1c1c1c" stroke-width="0.96" />
<line x1="546.7" y1="485.3" x2="583.5" y2="485.3" stroke="#1c1c1c" stroke-width="0.96" />
<line x1="546.7" y1="491.6" x2="583.5" y2="491.6" stroke="#1c1c1c" stroke-width="0.96" />
<line x1="622.6" y1="473.3" x2="660" y2="473.3" stroke="#1c1c1c" stroke-width="0.96" />
<line x1="622.6" y1="482" x2="660" y2="482" stroke="#1c1c1c" stroke-width="0.96" />
<line x1="622.6" y1="485.3" x2="660" y2="485.3" stroke="#1c1c1c" stroke-width="0.96" />
<line x1="622.6" y1="491.6" x2="660" y2="491.6" stroke="#1c1c1c" stroke-width="0.96" />
<line x1="401.3" y1="491.8" x2="485" y2="491.8" stroke="#666" stroke-width="1.32" />
<line x1="356" y1="234.3" x2="356" y2="269.8" stroke="#1c1c1c" stroke-width="1.32" />
<path d="M368 236.2L381.5 236.2A31.4 31.4 0 0 1 401.4 265.2L367 265.2" stroke="#1c1c1c" stroke-width="1.2" fill="none"/>
<path d="M501.1 299L501.1 267.4A30 30 0 0 0 471.2 297.4M501.1 297.2L505.6 297.2M501.1 300L505.6 300" stroke="#1c1c1c" stroke-width="1.2" fill="none"/>
<path d="M511.3 238.2L538.6 238.2A26.5 26.4 0 0 1 512.4 264.4" stroke="#1c1c1c" stroke-width="1.2" fill="none"/>
<path d="M621.8 421.4A27 26.8 0 0 0 648.8 448.2L648.8 421.4M633.8 441L634.5 443.5M648.6 383.4L648.6 410.9" stroke="#1c1c1c" stroke-width="1.2" fill="none"/>
<path d="M551.9 383.4L551.9 445M563.2 383.4L563.2 413.3M572.5 383.4L572.5 413.3M538.2 399.2L538.2 456.8M538.2 399.2L583.5 399.2M521.8 413.3L583.5 413.3M521.8 424L551.9 424M521.8 434.2L551.9 434.2M521.8 444.5L551.9 444.5M521.8 383.4L551.9 413.3M551.9 445.2L523 472.5M551.9 445.2L583.5 472.5M538.2 456.8L563.5 456.8M583.5 383.4L583.5 421.4" stroke="#1c1c1c" stroke-width="1.05" fill="none"/>
<line x1="554.7" y1="424" x2="583.5" y2="424" stroke="#1c1c1c" stroke-width="1.08" stroke-dasharray="8.7 3.2"/>
<line x1="554.7" y1="434.2" x2="583.5" y2="434.2" stroke="#1c1c1c" stroke-width="1.08" stroke-dasharray="8.7 3.2"/>
<line x1="554.7" y1="444.5" x2="583.5" y2="444.5" stroke="#1c1c1c" stroke-width="1.08" stroke-dasharray="8.7 3.2"/>
<line x1="551.9" y1="445" x2="551.9" y2="472.5" stroke="#888" stroke-width="0.96" />
<path d="M564.6 515.7L564.6 463.7M562.2 461.8L565.8 457.6" stroke="#1c1c1c" stroke-width="1.05" fill="none"/>
<line x1="376.4" y1="156.3" x2="506.2" y2="156.3" stroke="#1c1c1c" stroke-width="1.08" />
<line x1="521.8" y1="156.3" x2="673.6" y2="156.3" stroke="#1c1c1c" stroke-width="1.08" />
<line x1="376.4" y1="147.5" x2="376.4" y2="199.5" stroke="#1c1c1c" stroke-width="1.08" />
<line x1="506.2" y1="147.5" x2="506.2" y2="199.5" stroke="#1c1c1c" stroke-width="1.08" />
<line x1="521.8" y1="147.5" x2="521.8" y2="199.5" stroke="#1c1c1c" stroke-width="1.08" />
<line x1="374.2" y1="158.5" x2="378.59999999999997" y2="154.1" stroke="#1c1c1c" stroke-width="1.08" />
<line x1="504.0" y1="158.5" x2="508.4" y2="154.1" stroke="#1c1c1c" stroke-width="1.08" />
<line x1="519.5999999999999" y1="158.5" x2="524.0" y2="154.1" stroke="#1c1c1c" stroke-width="1.08" />
<line x1="671.4" y1="158.5" x2="675.8000000000001" y2="154.1" stroke="#1c1c1c" stroke-width="1.08" />
<text x="441.3" y="150.5" font-size="12" text-anchor="middle" font-weight="normal" fill="#222" stroke="#222" stroke-width="0.12"  textLength="22.6" lengthAdjust="spacingAndGlyphs">3.80</text>
<text x="597.9" y="150.5" font-size="12" text-anchor="middle" font-weight="normal" fill="#222" stroke="#222" stroke-width="0.12"  textLength="22.4" lengthAdjust="spacingAndGlyphs">4.50</text>
<line x1="444.6" y1="172.5" x2="444.6" y2="223.5" stroke="#1c1c1c" stroke-width="1.08" />
<text x="435.40000000000003" y="183.2" font-size="8.6" text-anchor="middle" font-weight="normal" fill="#222" stroke="#222" stroke-width="0.12" transform="rotate(90 435.40000000000003 183.2)"  textLength="13" lengthAdjust="spacingAndGlyphs">220</text>
<text x="446.90000000000003" y="183.4" font-size="8.6" text-anchor="middle" font-weight="normal" fill="#222" stroke="#222" stroke-width="0.12" transform="rotate(90 446.90000000000003 183.4)"  textLength="12.4" lengthAdjust="spacingAndGlyphs">140</text>
<line x1="568.8" y1="172.5" x2="568.8" y2="223.5" stroke="#1c1c1c" stroke-width="1.08" />
<text x="559.5999999999999" y="183.2" font-size="8.6" text-anchor="middle" font-weight="normal" fill="#222" stroke="#222" stroke-width="0.12" transform="rotate(90 559.5999999999999 183.2)"  textLength="13" lengthAdjust="spacingAndGlyphs">220</text>
<text x="571.0999999999999" y="183.4" font-size="8.6" text-anchor="middle" font-weight="normal" fill="#222" stroke="#222" stroke-width="0.12" transform="rotate(90 571.0999999999999 183.4)"  textLength="12.4" lengthAdjust="spacingAndGlyphs">140</text>
<line x1="312.8" y1="216.9" x2="358" y2="216.9" stroke="#1c1c1c" stroke-width="1.08" />
<line x1="312.8" y1="297.6" x2="355.5" y2="297.6" stroke="#1c1c1c" stroke-width="1.08" />
<line x1="312.8" y1="300.4" x2="355.5" y2="300.4" stroke="#1c1c1c" stroke-width="1.08" />
<line x1="312.8" y1="473.3" x2="366" y2="473.3" stroke="#1c1c1c" stroke-width="1.08" />
<line x1="319.40000000000003" y1="219.3" x2="324.2" y2="214.5" stroke="#1c1c1c" stroke-width="1.08" />
<line x1="319.40000000000003" y1="301.4" x2="324.2" y2="296.6" stroke="#1c1c1c" stroke-width="1.08" />
<line x1="319.40000000000003" y1="475.7" x2="324.2" y2="470.90000000000003" stroke="#1c1c1c" stroke-width="1.08" />
<text x="314.3" y="256.7" font-size="12" text-anchor="middle" font-weight="normal" fill="#222" stroke="#222" stroke-width="0.12" transform="rotate(-90 314.3 256.7)"  textLength="22.2" lengthAdjust="spacingAndGlyphs">2.35</text>
<text x="314.5" y="386.8" font-size="12" text-anchor="middle" font-weight="normal" fill="#222" stroke="#222" stroke-width="0.12" transform="rotate(-90 314.5 386.8)"  textLength="21" lengthAdjust="spacingAndGlyphs">5.10</text>
<polygon points="316,250 323.5,250 323.5,243.8 334.6,255.4 323.5,267.2 323.5,261.4 316,261.4" fill="url(#hr)" stroke="#3a2a2a" stroke-width="0.8"/>
<line x1="321.8" y1="216.9" x2="321.8" y2="473.3" stroke="#1c1c1c" stroke-width="1.08" />
<line x1="335" y1="251.5" x2="385.5" y2="251.5" stroke="#1c1c1c" stroke-width="1.08" />
<text x="344.7" y="249.7" font-size="7.3" text-anchor="middle" font-weight="normal" fill="#222" stroke="#222" stroke-width="0.12" >100</text>
<text x="344.7" y="260.6" font-size="7.3" text-anchor="middle" font-weight="normal" fill="#222" stroke="#222" stroke-width="0.12" >220</text>
<line x1="324.3" y1="320.8" x2="382.5" y2="320.8" stroke="#1c1c1c" stroke-width="1.08" />
<text x="344.5" y="318.3" font-size="7.3" text-anchor="middle" font-weight="normal" fill="#222" stroke="#222" stroke-width="0.12" >80</text>
<text x="344.5" y="329.2" font-size="7.3" text-anchor="middle" font-weight="normal" fill="#222" stroke="#222" stroke-width="0.12" >80</text>
<line x1="373.3" y1="532.2" x2="506" y2="532.2" stroke="#1c1c1c" stroke-width="1.08" />
<line x1="522" y1="532.2" x2="583.5" y2="532.2" stroke="#1c1c1c" stroke-width="1.08" />
<line x1="587.5" y1="532.2" x2="673.6" y2="532.2" stroke="#1c1c1c" stroke-width="1.08" />
<line x1="373.3" y1="499.5" x2="373.3" y2="540.8" stroke="#1c1c1c" stroke-width="1.08" />
<line x1="370.7" y1="534.6" x2="375.7" y2="529.3" stroke="#1c1c1c" stroke-width="1.08" />
<line x1="506" y1="499.5" x2="506" y2="540.8" stroke="#1c1c1c" stroke-width="1.08" />
<line x1="503.4" y1="534.6" x2="508.4" y2="529.3" stroke="#1c1c1c" stroke-width="1.08" />
<line x1="522" y1="499.5" x2="522" y2="540.8" stroke="#1c1c1c" stroke-width="1.08" />
<line x1="519.4" y1="534.6" x2="524.4" y2="529.3" stroke="#1c1c1c" stroke-width="1.08" />
<line x1="583.5" y1="499.5" x2="583.5" y2="540.8" stroke="#1c1c1c" stroke-width="1.08" />
<line x1="580.9" y1="534.6" x2="585.9" y2="529.3" stroke="#1c1c1c" stroke-width="1.08" />
<line x1="587.5" y1="499.5" x2="587.5" y2="540.8" stroke="#1c1c1c" stroke-width="1.08" />
<line x1="584.9" y1="534.6" x2="589.9" y2="529.3" stroke="#1c1c1c" stroke-width="1.08" />
<line x1="673.6" y1="499.5" x2="673.6" y2="540.8" stroke="#1c1c1c" stroke-width="1.08" />
<line x1="671.0" y1="534.6" x2="676.0" y2="529.3" stroke="#1c1c1c" stroke-width="1.08" />
<text x="439.7" y="524.4" font-size="12" text-anchor="middle" font-weight="normal" fill="#222" stroke="#222" stroke-width="0.12"  textLength="21.9" lengthAdjust="spacingAndGlyphs">3.90</text>
<text x="552.7" y="524.9" font-size="12" text-anchor="middle" font-weight="normal" fill="#222" stroke="#222" stroke-width="0.12"  textLength="22" lengthAdjust="spacingAndGlyphs">1.80</text>
<text x="630.9" y="524.9" font-size="12" text-anchor="middle" font-weight="normal" fill="#222" stroke="#222" stroke-width="0.12"  textLength="22.2" lengthAdjust="spacingAndGlyphs">2.55</text>
<line x1="443.3" y1="462" x2="443.3" y2="511" stroke="#1c1c1c" stroke-width="1.08" />
<text x="445.4" y="477.7" font-size="8.6" text-anchor="middle" font-weight="normal" fill="#222" stroke="#222" stroke-width="0.12" transform="rotate(90 445.4 477.7)"  textLength="13.6" lengthAdjust="spacingAndGlyphs">250</text>
<text x="434.3" y="477.7" font-size="8.6" text-anchor="middle" font-weight="normal" fill="#222" stroke="#222" stroke-width="0.12" transform="rotate(90 434.3 477.7)"  textLength="13.6" lengthAdjust="spacingAndGlyphs">230</text>
<text x="567.6" y="502" font-size="8.6" text-anchor="middle" font-weight="normal" fill="#222" stroke="#222" stroke-width="0.12" transform="rotate(90 567.6 502)"  textLength="8.7" lengthAdjust="spacingAndGlyphs">80</text>
<text x="556.2" y="502" font-size="8.6" text-anchor="middle" font-weight="normal" fill="#222" stroke="#222" stroke-width="0.12" transform="rotate(90 556.2 502)"  textLength="8.7" lengthAdjust="spacingAndGlyphs">80</text>
<line x1="641.3" y1="461" x2="641.3" y2="509" stroke="#1c1c1c" stroke-width="1.08" />
<text x="643.7" y="502" font-size="8.6" text-anchor="middle" font-weight="normal" fill="#222" stroke="#222" stroke-width="0.12" transform="rotate(90 643.7 502)"  textLength="8.7" lengthAdjust="spacingAndGlyphs">80</text>
<text x="632.3" y="502" font-size="8.6" text-anchor="middle" font-weight="normal" fill="#222" stroke="#222" stroke-width="0.12" transform="rotate(90 632.3 502)"  textLength="8.7" lengthAdjust="spacingAndGlyphs">80</text>
<text x="430.6" y="252.5" font-size="12" text-anchor="middle" font-weight="normal" fill="#222" stroke="#222" stroke-width="0.12"  textLength="45" lengthAdjust="spacingAndGlyphs">ingresso</text>
<text x="596.5" y="283.9" font-size="13" text-anchor="middle" font-weight="normal" fill="#222" stroke="#222" stroke-width="0.12"  textLength="57.6" lengthAdjust="spacingAndGlyphs">sgombero</text>
<text x="444" y="390.6" font-size="12.2" text-anchor="middle" font-weight="normal" fill="#222" stroke="#222" stroke-width="0.12"  textLength="20.6" lengthAdjust="spacingAndGlyphs">box</text>
<text x="641.1" y="459.9" font-size="12" text-anchor="middle" font-weight="normal" fill="#222" stroke="#222" stroke-width="0.12"  textLength="17" lengthAdjust="spacingAndGlyphs">wc</text>
</g>
</svg>
</body></html>
